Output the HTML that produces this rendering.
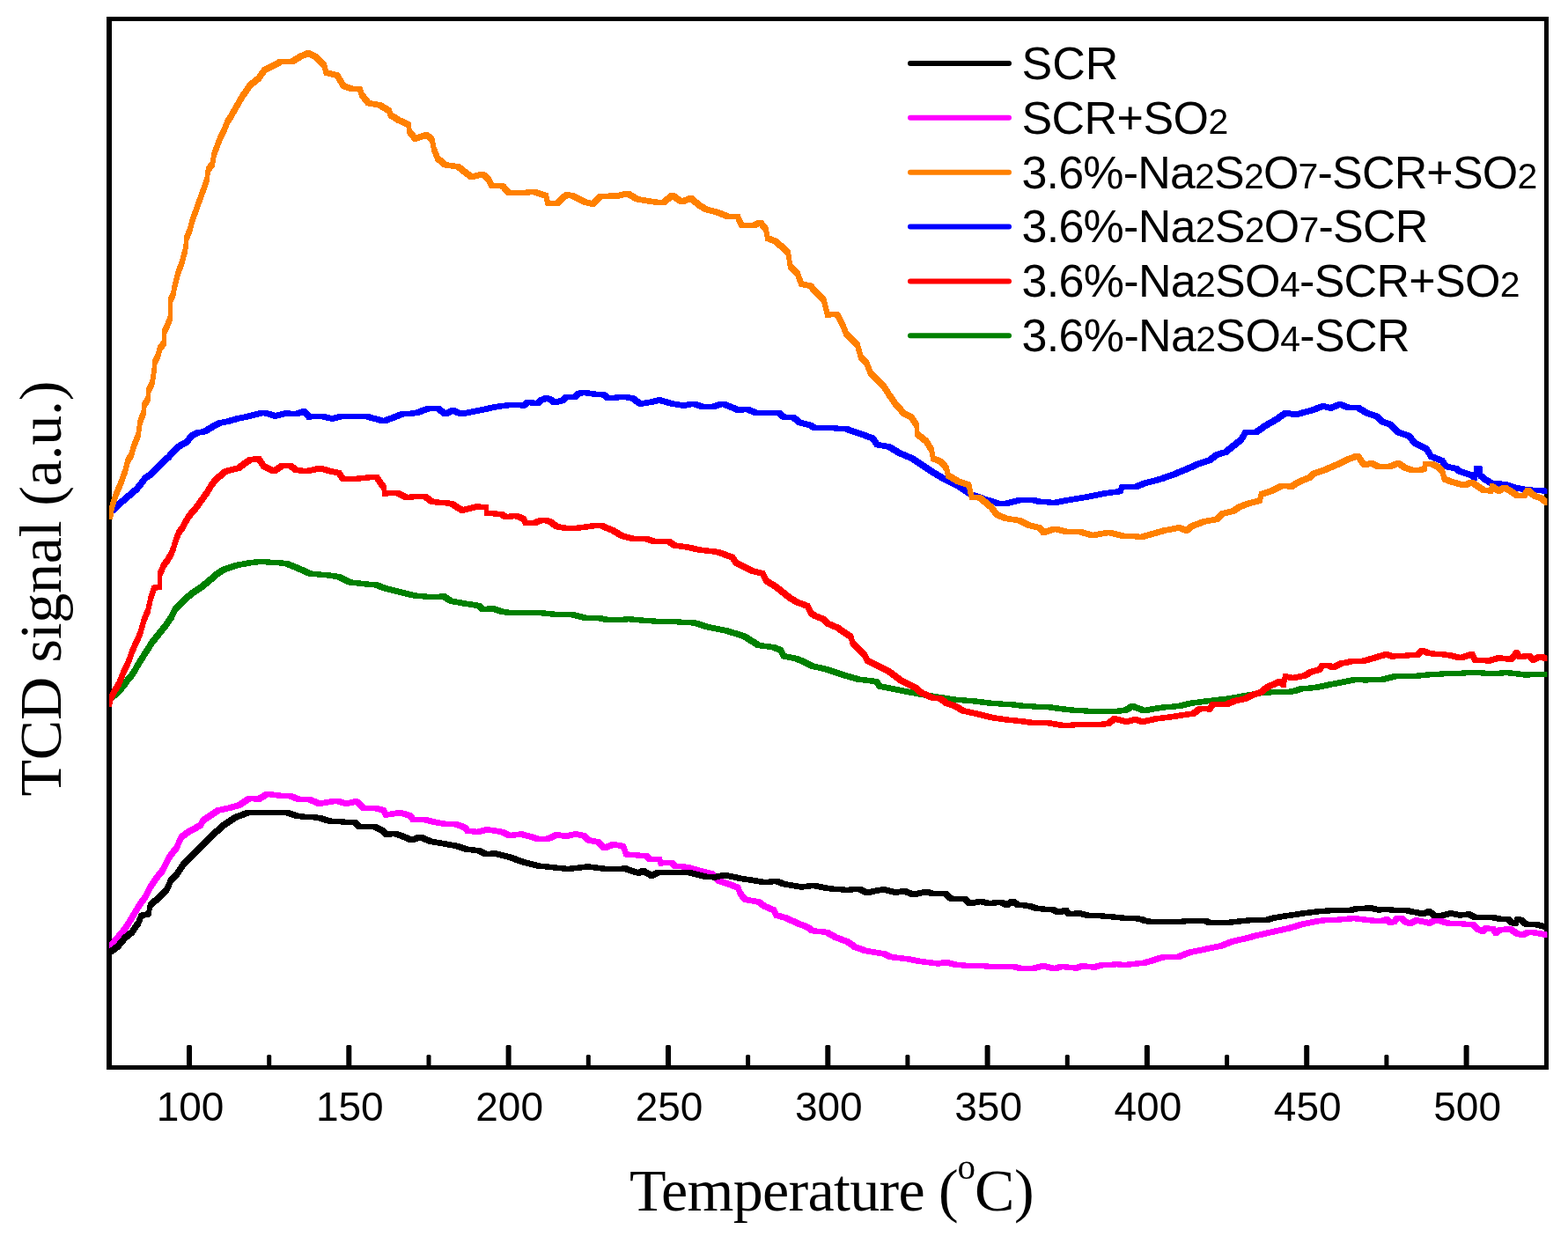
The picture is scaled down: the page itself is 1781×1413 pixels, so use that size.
<!DOCTYPE html>
<html><head><meta charset="utf-8"><title>TCD signal vs Temperature</title>
<style>html,body{margin:0;padding:0;background:#fff;}svg{display:block;}</style>
</head><body>
<svg width="1781" height="1413" viewBox="0 0 1781 1413">
<rect x="0" y="0" width="1781" height="1413" fill="#fff"/>
<g fill="#000">
<rect x="121" y="19" width="6" height="1196"/>
<rect x="121" y="19" width="1638" height="5"/>
<rect x="1754" y="19" width="5" height="1196"/>
<rect x="121" y="1210" width="1638" height="5"/>
<rect x="212.0" y="1187" width="6" height="24" rx="1.5"/>
<rect x="303.2" y="1198" width="5" height="13" rx="1.5"/>
<rect x="393.3" y="1187" width="6" height="24" rx="1.5"/>
<rect x="484.5" y="1198" width="5" height="13" rx="1.5"/>
<rect x="574.6" y="1187" width="6" height="24" rx="1.5"/>
<rect x="665.8" y="1198" width="5" height="13" rx="1.5"/>
<rect x="756.0" y="1187" width="6" height="24" rx="1.5"/>
<rect x="847.1" y="1198" width="5" height="13" rx="1.5"/>
<rect x="937.3" y="1187" width="6" height="24" rx="1.5"/>
<rect x="1028.4" y="1198" width="5" height="13" rx="1.5"/>
<rect x="1118.6" y="1187" width="6" height="24" rx="1.5"/>
<rect x="1209.8" y="1198" width="5" height="13" rx="1.5"/>
<rect x="1299.9" y="1187" width="6" height="24" rx="1.5"/>
<rect x="1391.1" y="1198" width="5" height="13" rx="1.5"/>
<rect x="1481.2" y="1187" width="6" height="24" rx="1.5"/>
<rect x="1572.4" y="1198" width="5" height="13" rx="1.5"/>
<rect x="1662.6" y="1187" width="6" height="24" rx="1.5"/>
</g>
<defs><clipPath id="plotclip"><rect x="124" y="0" width="1633.5" height="1413"/></clipPath></defs>
<g clip-path="url(#plotclip)">
<path fill="#008000" shape-rendering="crispEdges" d="M122,791L126,788L131,788L131,794L127,797L122,797ZM126,788L131.7,782.4L136.7,782.4L136.7,788.4L131,794L126,794ZM131.7,782.4L137.3,776.7L142.3,776.7L142.3,782.7L136.7,788.4L131.7,788.4ZM137.3,776.7L142.3,769.6L147.3,769.6L147.3,775.6L142.3,782.7L137.3,782.7ZM142.3,769.6L147.2,764L152.2,764L152.2,770L147.3,775.6L142.3,775.6ZM147.2,764L151.5,756.9L156.5,756.9L156.5,762.9L152.2,770L147.2,770ZM151.5,756.9L155.7,749.8L160.7,749.8L160.7,755.8L156.5,762.9L151.5,762.9ZM155.7,749.8L160,742.7L165,742.7L165,748.7L160.7,755.8L155.7,755.8ZM160,742.7L165.6,734.3L170.6,734.3L170.6,740.3L165,748.7L160,748.7ZM165.6,734.3L169.9,727.2L174.9,727.2L174.9,733.2L170.6,740.3L165.6,740.3ZM169.9,727.2L175.5,720.1L180.5,720.1L180.5,726.1L174.9,733.2L169.9,733.2ZM175.5,720.1L181.2,713L186.2,713L186.2,719L180.5,726.1L175.5,726.1ZM181.2,713L186.8,706L191.8,706L191.8,712L186.2,719L181.2,719ZM186.8,706L192.5,697.5L197.5,697.5L197.5,703.5L191.8,712L186.8,712ZM192.5,697.5L196.7,689L201.7,689L201.7,695L197.5,703.5L192.5,703.5ZM196.7,689L203.8,681.9L208.8,681.9L208.8,687.9L201.7,695L196.7,695ZM203.8,681.9L210.9,674.8L215.9,674.8L215.9,680.8L208.8,687.9L203.8,687.9ZM210.9,674.8L218,669.2L223,669.2L223,675.2L215.9,680.8L210.9,680.8ZM218,669.2L225,664.9L230,664.9L230,670.9L223,675.2L218,675.2ZM225,664.9L232.9,658.5L237.9,658.5L237.9,664.5L230,670.9L225,670.9ZM232.9,658.5L244.8,648.3L249.8,648.3L249.8,654.3L237.9,664.5L232.9,664.5ZM244.8,648.3L253.3,643.2L258.3,643.2L258.3,649.2L249.8,654.3L244.8,654.3ZM253.3,643.2L266.9,639L271.9,639L271.9,645L258.3,649.2L253.3,649.2ZM266.9,639L280.5,636.4L285.5,636.4L285.5,642.4L271.9,645L266.9,645ZM280.5,636.4L294.1,634.7L299.1,634.7L299.1,640.7L285.5,642.4L280.5,642.4ZM294.1,634.7L299.1,634.7L307.6,635.6L307.6,641.6L302.6,641.6L294.1,640.7ZM302.6,635.6L307.6,635.6L321.1,636.4L321.1,642.4L316.1,642.4L302.6,641.6ZM316.1,636.4L321.1,636.4L328,637.2L328,643.2L323,643.2L316.1,642.4ZM323,637.2L328,637.2L338.6,641.4L338.6,647.4L333.6,647.4L323,643.2ZM333.6,641.4L338.6,641.4L355.6,648.9L355.6,654.9L350.6,654.9L333.6,647.4ZM350.6,648.9L355.6,648.9L372.6,650L372.6,656L367.6,656L350.6,654.9ZM367.6,650L372.6,650L387.4,652.1L387.4,658.1L382.4,658.1L367.6,656ZM382.4,652.1L387.4,652.1L400.2,658.4L400.2,664.4L395.2,664.4L382.4,658.1ZM395.2,658.4L400.2,658.4L419.3,660.5L419.3,666.5L414.3,666.5L395.2,664.4ZM414.3,660.5L427.8,660.5L427.8,666.5L414.3,666.5ZM422.8,660.5L427.8,660.5L438.4,664.8L438.4,670.8L433.4,670.8L422.8,666.5ZM433.4,664.8L438.4,664.8L455.4,669L455.4,675L450.4,675L433.4,670.8ZM450.4,669L455.4,669L472.4,673.3L472.4,679.3L467.4,679.3L450.4,675ZM467.4,673.3L472.4,673.3L493.6,675.4L493.6,681.4L488.6,681.4L467.4,679.3ZM488.6,675.4L501.3,674.3L506.3,674.3L506.3,680.3L493.6,681.4L488.6,681.4ZM501.3,674.3L506.3,674.3L514.8,679.7L514.8,685.7L509.8,685.7L501.3,680.3ZM509.8,679.7L514.8,679.7L531.8,682.8L531.8,688.8L526.8,688.8L509.8,685.7ZM526.8,682.8L531.8,682.8L546.7,685L546.7,691L541.7,691L526.8,688.8ZM541.7,685L546.7,685L550.9,689.2L550.9,695.2L545.9,695.2L541.7,691ZM545.9,689.2L556.5,688.1L561.5,688.1L561.5,694.1L550.9,695.2L545.9,695.2ZM556.5,688.1L561.5,688.1L574.3,692.4L574.3,698.4L569.3,698.4L556.5,694.1ZM569.3,692.4L574.3,692.4L592.5,692.9L592.5,698.9L587.5,698.9L569.3,698.4ZM587.5,692.9L613.7,692.9L613.7,698.9L587.5,698.9ZM608.7,692.9L613.7,692.9L630.7,694.6L630.7,700.6L625.7,700.6L608.7,698.9ZM625.7,694.6L630.7,694.6L651.9,695L651.9,701L646.9,701L625.7,700.6ZM646.9,695L651.9,695L668.9,699.3L668.9,705.3L663.9,705.3L646.9,701ZM663.9,699.3L676.7,698.8L681.7,698.8L681.7,704.8L668.9,705.3L663.9,705.3ZM676.7,698.8L681.7,698.8L694.4,701.4L694.4,707.4L689.4,707.4L676.7,704.8ZM689.4,701.4L712.8,700.3L717.8,700.3L717.8,706.3L694.4,707.4L689.4,707.4ZM712.8,700.3L717.8,700.3L741.1,702.4L741.1,708.4L736.1,708.4L712.8,706.3ZM736.1,702.4L741.1,702.4L766.6,703.1L766.6,709.1L761.6,709.1L736.1,708.4ZM761.6,703.1L766.6,703.1L792.1,704.6L792.1,710.6L787.1,710.6L761.6,709.1ZM787.1,704.6L792.1,704.6L804.8,708.8L804.8,714.8L799.8,714.8L787.1,710.6ZM799.8,708.8L804.8,708.8L826,713L826,719L821,719L799.8,714.8ZM821,713L826,713L847.3,719.4L847.3,725.4L842.3,725.4L821,719ZM842.3,719.4L847.3,719.4L864.3,730L864.3,736L859.3,736L842.3,725.4ZM859.3,730L864.3,730L881.2,732.2L881.2,738.2L876.2,738.2L859.3,736ZM876.2,732.2L881.2,732.2L889.3,735.5L889.3,741.5L884.3,741.5L876.2,738.2ZM884.3,735.5L889.3,735.5L892.7,742.3L892.7,748.3L887.7,748.3L884.3,741.5ZM887.7,742.3L892.7,742.3L906.3,744.9L906.3,750.9L901.3,750.9L887.7,748.3ZM901.3,744.9L906.3,744.9L916.5,749.1L916.5,755.1L911.5,755.1L901.3,750.9ZM911.5,749.1L916.5,749.1L925,753.4L925,759.4L920,759.4L911.5,755.1ZM920,753.4L925,753.4L942,757.6L942,763.6L937,763.6L920,759.4ZM937,757.6L942,757.6L957.2,762.7L957.2,768.7L952.2,768.7L937,763.6ZM952.2,762.7L957.2,762.7L977.6,768.6L977.6,774.6L972.6,774.6L952.2,768.7ZM972.6,768.6L977.6,768.6L998,771.2L998,777.2L993,777.2L972.6,774.6ZM993,771.2L998,771.2L1001.4,776.3L1001.4,782.3L996.4,782.3L993,777.2ZM996.4,776.3L1001.4,776.3L1018.4,779.7L1018.4,785.7L1013.4,785.7L996.4,782.3ZM1013.4,779.7L1018.4,779.7L1030.3,782.2L1030.3,788.2L1025.3,788.2L1013.4,785.7ZM1025.3,782.2L1030.3,782.2L1049,785.6L1049,791.6L1044,791.6L1025.3,788.2ZM1044,785.6L1049,785.6L1069.4,789L1069.4,795L1064.4,795L1044,791.6ZM1064.4,789L1069.4,789L1086.3,791.6L1086.3,797.6L1081.3,797.6L1064.4,795ZM1081.3,791.6L1086.3,791.6L1108.4,793.3L1108.4,799.3L1103.4,799.3L1081.3,797.6ZM1103.4,793.3L1108.4,793.3L1128.8,795.8L1128.8,801.8L1123.8,801.8L1103.4,799.3ZM1123.8,795.8L1128.8,795.8L1154.3,797.5L1154.3,803.5L1149.3,803.5L1123.8,801.8ZM1149.3,797.5L1154.3,797.5L1167.9,799.2L1167.9,805.2L1162.9,805.2L1149.3,803.5ZM1162.9,799.2L1167.9,799.2L1192.7,800L1192.7,806L1187.7,806L1162.9,805.2ZM1187.7,800L1192.7,800L1216.3,803.3L1216.3,809.3L1211.3,809.3L1187.7,806ZM1211.3,803.3L1216.3,803.3L1244.9,805L1244.9,811L1239.9,811L1211.3,809.3ZM1239.9,805L1270.2,805L1270.2,811L1239.9,811ZM1265.2,805L1277,803.3L1282,803.3L1282,809.3L1270.2,811L1265.2,811ZM1277,803.3L1283.7,799.1L1288.7,799.1L1288.7,805.1L1282,809.3L1277,809.3ZM1283.7,799.1L1288.7,799.1L1302.2,804.2L1302.2,810.2L1297.2,810.2L1283.7,805.1ZM1297.2,804.2L1315.7,800.8L1320.7,800.8L1320.7,806.8L1302.2,810.2L1297.2,810.2ZM1315.7,800.8L1335.9,799.1L1340.9,799.1L1340.9,805.1L1320.7,806.8L1315.7,806.8ZM1335.9,799.1L1351.1,795.7L1356.1,795.7L1356.1,801.7L1340.9,805.1L1335.9,805.1ZM1351.1,795.7L1369.6,793.2L1374.6,793.2L1374.6,799.2L1356.1,801.7L1351.1,801.7ZM1369.6,793.2L1391.5,790.7L1396.5,790.7L1396.5,796.7L1374.6,799.2L1369.6,799.2ZM1391.5,790.7L1411.7,787.3L1416.7,787.3L1416.7,793.3L1396.5,796.7L1391.5,796.7ZM1411.7,787.3L1430.3,784L1435.3,784L1435.3,790L1416.7,793.3L1411.7,793.3ZM1430.3,784L1445.4,783.1L1450.4,783.1L1450.4,789.1L1435.3,790L1430.3,790ZM1445.4,783.1L1457.5,783L1462.5,783L1462.5,789L1450.4,789.1L1445.4,789.1ZM1457.5,783L1467.6,782.2L1472.6,782.2L1472.6,788.2L1462.5,789L1457.5,789ZM1467.6,782.2L1474.3,779.6L1479.3,779.6L1479.3,785.6L1472.6,788.2L1467.6,788.2ZM1474.3,779.6L1491.2,778L1496.2,778L1496.2,784L1479.3,785.6L1474.3,785.6ZM1491.2,778L1508,774.6L1513,774.6L1513,780.6L1496.2,784L1491.2,784ZM1508,774.6L1521.5,772.1L1526.5,772.1L1526.5,778.1L1513,780.6L1508,780.6ZM1521.5,772.1L1538.3,768.7L1543.3,768.7L1543.3,774.7L1526.5,778.1L1521.5,778.1ZM1538.3,768.7L1543.3,768.7L1553.5,769.5L1553.5,775.5L1548.5,775.5L1538.3,774.7ZM1548.5,769.5L1568.7,768.7L1573.7,768.7L1573.7,774.7L1553.5,775.5L1548.5,775.5ZM1568.7,768.7L1582.1,765.3L1587.1,765.3L1587.1,771.3L1573.7,774.7L1568.7,774.7ZM1582.1,765.3L1605.7,765.3L1605.7,771.3L1582.1,771.3ZM1600.7,765.3L1617.5,763.6L1622.5,763.6L1622.5,769.6L1605.7,771.3L1600.7,771.3ZM1617.5,763.6L1642.8,762L1647.8,762L1647.8,768L1622.5,769.6L1617.5,769.6ZM1642.8,762L1673.1,761.1L1678.1,761.1L1678.1,767.1L1647.8,768L1642.8,768ZM1673.1,761.1L1678.1,761.1L1698.3,762L1698.3,768L1693.3,768L1673.1,767.1ZM1693.3,762L1710.1,761.1L1715.1,761.1L1715.1,767.1L1698.3,768L1693.3,768ZM1710.1,761.1L1715.1,761.1L1735.4,763.6L1735.4,769.6L1730.4,769.6L1710.1,767.1ZM1730.4,763.6L1753.9,762.8L1758.9,762.8L1758.9,768.8L1735.4,769.6L1730.4,769.6Z"/>
<path fill="#ff0000" shape-rendering="crispEdges" d="M122,797L123.2,790.9L128.2,790.9L128.2,796.9L127,803L122,803ZM123.2,790.9L128.1,781L133.1,781L133.1,787L128.2,796.9L123.2,796.9ZM128.1,781L132.4,773.9L137.4,773.9L137.4,779.9L133.1,787L128.1,787ZM132.4,773.9L135.9,765.4L140.9,765.4L140.9,771.4L137.4,779.9L132.4,779.9ZM135.9,765.4L138.7,758.3L143.7,758.3L143.7,764.3L140.9,771.4L135.9,771.4ZM138.7,758.3L143,749.8L148,749.8L148,755.8L143.7,764.3L138.7,764.3ZM143,749.8L146.5,739.9L151.5,739.9L151.5,745.9L148,755.8L143,755.8ZM146.5,739.9L150,731.4L155,731.4L155,737.4L151.5,745.9L146.5,745.9ZM150,731.4L154.3,722.9L159.3,722.9L159.3,728.9L155,737.4L150,737.4ZM154.3,722.9L157.8,713L162.8,713L162.8,719L159.3,728.9L154.3,728.9ZM157.8,713L161.4,700.3L166.4,700.3L166.4,706.3L162.8,719L157.8,719ZM161.4,700.3L165.6,690.4L170.6,690.4L170.6,696.4L166.4,706.3L161.4,706.3ZM165.6,690.4L168.4,677.7L173.4,677.7L173.4,683.7L170.6,696.4L165.6,696.4ZM168.4,677.7L172.7,664.9L177.7,664.9L177.7,670.9L173.4,683.7L168.4,683.7ZM172.7,664.9L179.1,663.5L184.1,663.5L184.1,669.5L177.7,670.9L172.7,670.9ZM179.1,649.4L184.1,649.4L184.1,669.5L179.1,669.5ZM179.1,649.4L183.3,639.5L188.3,639.5L188.3,645.5L184.1,655.4L179.1,655.4ZM183.3,639.5L187.5,633.8L192.5,633.8L192.5,639.8L188.3,645.5L183.3,645.5ZM187.5,633.8L191.8,626.7L196.8,626.7L196.8,632.7L192.5,639.8L187.5,639.8ZM191.8,626.7L194.6,619.6L199.6,619.6L199.6,625.6L196.8,632.7L191.8,632.7ZM194.6,619.6L197.5,609.7L202.5,609.7L202.5,615.7L199.6,625.6L194.6,625.6ZM197.5,609.7L201,601.2L206,601.2L206,607.2L202.5,615.7L197.5,615.7ZM201,601.2L205.2,596L210.2,596L210.2,602L206,607.2L201,607.2ZM205.2,596L211.3,584L216.3,584L216.3,590L210.2,602L205.2,602ZM211.3,584L218.7,575.7L223.7,575.7L223.7,581.7L216.3,590L211.3,590ZM218.7,575.7L224.2,568.3L229.2,568.3L229.2,574.3L223.7,581.7L218.7,581.7ZM224.2,568.3L228.8,561.9L233.8,561.9L233.8,567.9L229.2,574.3L224.2,574.3ZM228.8,561.9L233.4,555.4L238.4,555.4L238.4,561.4L233.8,567.9L228.8,567.9ZM233.4,555.4L237.1,549L242.1,549L242.1,555L238.4,561.4L233.4,561.4ZM237.1,549L241.7,542.6L246.7,542.6L246.7,548.6L242.1,555L237.1,555ZM241.7,542.6L248.1,537L253.1,537L253.1,543L246.7,548.6L241.7,548.6ZM248.1,537L253.7,532.4L258.7,532.4L258.7,538.4L253.1,543L248.1,543ZM253.7,532.4L261,530.6L266,530.6L266,536.6L258.7,538.4L253.7,538.4ZM261,530.6L268.4,528.8L273.4,528.8L273.4,534.8L266,536.6L261,536.6ZM268.4,528.8L275.7,523.2L280.7,523.2L280.7,529.2L273.4,534.8L268.4,534.8ZM275.7,523.2L281.8,519L286.8,519L286.8,525L280.7,529.2L275.7,529.2ZM281.8,519L291.3,518L296.3,518L296.3,524L286.8,525L281.8,525ZM291.3,518L296.3,518L302.1,526.6L302.1,532.6L297.1,532.6L291.3,524ZM297.1,526.6L302.1,526.6L313.5,532.3L313.5,538.3L308.5,538.3L297.1,532.6ZM308.5,532.3L317.1,526.6L322.1,526.6L322.1,532.6L313.5,538.3L308.5,538.3ZM317.1,526.6L320.9,525.7L325.9,525.7L325.9,531.7L322.1,532.6L317.1,532.6ZM320.9,525.7L332.2,525.7L332.2,531.7L320.9,531.7ZM327.2,525.7L332.2,525.7L338.6,531L338.6,537L333.6,537L327.2,531.7ZM333.6,531L338.6,531L351.3,532.1L351.3,538.1L346.3,538.1L333.6,537ZM346.3,532.1L361.2,528.9L366.2,528.9L366.2,534.9L351.3,538.1L346.3,538.1ZM361.2,528.9L366.2,528.9L376.8,532.1L376.8,538.1L371.8,538.1L361.2,534.9ZM371.8,532.1L376.8,532.1L387.4,534.2L387.4,540.2L382.4,540.2L371.8,538.1ZM382.4,534.2L387.4,534.2L391.7,540.6L391.7,546.6L386.7,546.6L382.4,540.2ZM386.7,540.6L408.7,540.6L408.7,546.6L386.7,546.6ZM403.7,540.6L424.9,538.5L429.9,538.5L429.9,544.5L408.7,546.6L403.7,546.6ZM424.9,538.5L429.9,538.5L434.1,544.8L434.1,550.8L429.1,550.8L424.9,544.5ZM429.1,544.8L434.1,544.8L438.4,550.1L438.4,556.1L433.4,556.1L429.1,550.8ZM433.4,550.1L438.4,550.1L439.4,557.6L439.4,563.6L434.4,563.6L433.4,556.1ZM434.4,557.6L448.2,556.5L453.2,556.5L453.2,562.5L439.4,563.6L434.4,563.6ZM448.2,556.5L453.2,556.5L463.9,561.8L463.9,567.8L458.9,567.8L448.2,562.5ZM458.9,561.8L480.1,560.8L485.1,560.8L485.1,566.8L463.9,567.8L458.9,567.8ZM480.1,560.8L485.1,560.8L493.6,567.1L493.6,573.1L488.6,573.1L480.1,566.8ZM488.6,567.1L493.6,567.1L514.8,568.8L514.8,574.8L509.8,574.8L488.6,573.1ZM509.8,568.8L514.8,568.8L527.5,576.7L527.5,582.7L522.5,582.7L509.8,574.8ZM522.5,576.7L539.5,572.4L544.5,572.4L544.5,578.4L527.5,582.7L522.5,582.7ZM539.5,572.4L544.5,572.4L555.2,573.5L555.2,579.5L550.2,579.5L539.5,578.4ZM550.2,573.5L555.2,573.5L555.2,585.9L550.2,585.9ZM550.2,579.9L555.2,579.9L572.1,580.9L572.1,586.9L567.1,586.9L550.2,585.9ZM567.1,580.9L572.1,580.9L576.4,584.1L576.4,590.1L571.4,590.1L567.1,586.9ZM571.4,584.1L584.1,583L589.1,583L589.1,589L576.4,590.1L571.4,590.1ZM584.1,583L589.1,583L597.8,586.7L597.8,592.7L592.8,592.7L584.1,589ZM592.8,586.7L597.8,586.7L598.9,591L598.9,597L593.9,597L592.8,592.7ZM593.9,591L609.5,591L609.5,597L593.9,597ZM604.5,591L613,587.8L618,587.8L618,593.8L609.5,597L604.5,597ZM613,587.8L618,587.8L626.5,588.8L626.5,594.8L621.5,594.8L613,593.8ZM621.5,588.8L626.5,588.8L635,595.2L635,601.2L630,601.2L621.5,594.8ZM630,595.2L635,595.2L647.7,597.3L647.7,603.3L642.7,603.3L630,601.2ZM642.7,597.3L657.6,596.3L662.6,596.3L662.6,602.3L647.7,603.3L642.7,603.3ZM657.6,596.3L672.4,594.2L677.4,594.2L677.4,600.2L662.6,602.3L657.6,602.3ZM672.4,594.2L685.9,594.2L685.9,600.2L672.4,600.2ZM680.9,594.2L685.9,594.2L698.7,599.5L698.7,605.5L693.7,605.5L680.9,600.2ZM693.7,599.5L698.7,599.5L709.3,605.8L709.3,611.8L704.3,611.8L693.7,605.5ZM704.3,605.8L709.3,605.8L722,609L722,615L717,615L704.3,611.8ZM717,609L736.9,609L736.9,615L717,615ZM731.9,609L736.9,609L745.4,612.2L745.4,618.2L740.4,618.2L731.9,615ZM740.4,612.2L762.4,612.2L762.4,618.2L740.4,618.2ZM757.4,612.2L762.4,612.2L768.7,616.4L768.7,622.4L763.7,622.4L757.4,618.2ZM763.7,616.4L768.7,616.4L783.6,618.6L783.6,624.6L778.6,624.6L763.7,622.4ZM778.6,618.6L783.6,618.6L798.4,621.8L798.4,627.8L793.4,627.8L778.6,624.6ZM793.4,621.8L798.4,621.8L817.6,623.9L817.6,629.9L812.6,629.9L793.4,627.8ZM812.6,623.9L817.6,623.9L834.5,630.2L834.5,636.2L829.5,636.2L812.6,629.9ZM829.5,630.2L834.5,630.2L838.8,636.6L838.8,642.6L833.8,642.6L829.5,636.2ZM833.8,636.6L838.8,636.6L855.8,645.1L855.8,651.1L850.8,651.1L833.8,642.6ZM850.8,645.1L855.8,645.1L868.5,648.3L868.5,654.3L863.5,654.3L850.8,651.1ZM863.5,648.3L868.5,648.3L872.8,656.8L872.8,662.8L867.8,662.8L863.5,654.3ZM867.8,656.8L872.8,656.8L883.4,663.2L883.4,669.2L878.4,669.2L867.8,662.8ZM878.4,663.2L883.4,663.2L891,669.3L891,675.3L886,675.3L878.4,669.2ZM886,669.3L891,669.3L899.5,676.1L899.5,682.1L894.5,682.1L886,675.3ZM894.5,676.1L899.5,676.1L908,681.2L908,687.2L903,687.2L894.5,682.1ZM903,681.2L908,681.2L919.9,685.4L919.9,691.4L914.9,691.4L903,687.2ZM914.9,685.4L919.9,685.4L923.3,693.1L923.3,699.1L918.3,699.1L914.9,691.4ZM918.3,693.1L923.3,693.1L928.4,696.5L928.4,702.5L923.4,702.5L918.3,699.1ZM923.4,696.5L928.4,696.5L936.9,699.9L936.9,705.9L931.9,705.9L923.4,702.5ZM931.9,699.9L936.9,699.9L942,704.9L942,710.9L937,710.9L931.9,705.9ZM937,704.9L942,704.9L953.8,710L953.8,716L948.8,716L937,710.9ZM948.8,710L953.8,710L962.3,716L962.3,722L957.3,722L948.8,716ZM957.3,716L962.3,716L969.1,720.2L969.1,726.2L964.1,726.2L957.3,722ZM964.1,720.2L969.1,720.2L970.8,727L970.8,733L965.8,733L964.1,726.2ZM965.8,727L970.8,727L977.6,733.8L977.6,739.8L972.6,739.8L965.8,733ZM972.6,733.8L977.6,733.8L984.4,740.6L984.4,746.6L979.4,746.6L972.6,739.8ZM979.4,740.6L984.4,740.6L987.8,747.4L987.8,753.4L982.8,753.4L979.4,746.6ZM982.8,747.4L987.8,747.4L998,752.5L998,758.5L993,758.5L982.8,753.4ZM993,752.5L998,752.5L1011.6,759.3L1011.6,765.3L1006.6,765.3L993,758.5ZM1006.6,759.3L1011.6,759.3L1018.4,764.4L1018.4,770.4L1013.4,770.4L1006.6,765.3ZM1013.4,764.4L1018.4,764.4L1025.2,769.5L1025.2,775.5L1020.2,775.5L1013.4,770.4ZM1020.2,769.5L1025.2,769.5L1042.2,778L1042.2,784L1037.2,784L1020.2,775.5ZM1037.2,778L1042.2,778L1049,783.9L1049,789.9L1044,789.9L1037.2,784ZM1044,783.9L1049,783.9L1062.6,789.9L1062.6,795.9L1057.6,795.9L1044,789.9ZM1057.6,789.9L1069.4,789.9L1069.4,795.9L1057.6,795.9ZM1064.4,789.9L1069.4,789.9L1077.8,795.8L1077.8,801.8L1072.8,801.8L1064.4,795.9ZM1072.8,795.8L1077.8,795.8L1086.3,798.4L1086.3,804.4L1081.3,804.4L1072.8,801.8ZM1081.3,798.4L1086.3,798.4L1096.5,804.3L1096.5,810.3L1091.5,810.3L1081.3,804.4ZM1091.5,804.3L1096.5,804.3L1111.8,807.7L1111.8,813.7L1106.8,813.7L1091.5,810.3ZM1106.8,807.7L1111.8,807.7L1128.8,812L1128.8,818L1123.8,818L1106.8,813.7ZM1123.8,812L1128.8,812L1145.8,814.5L1145.8,820.5L1140.8,820.5L1123.8,818ZM1140.8,814.5L1145.8,814.5L1162.8,816.2L1162.8,822.2L1157.8,822.2L1140.8,820.5ZM1157.8,816.2L1162.8,816.2L1172.5,817.6L1172.5,823.6L1167.5,823.6L1157.8,822.2ZM1167.5,817.6L1189.3,817.6L1189.3,823.6L1167.5,823.6ZM1184.3,817.6L1189.3,817.6L1209.6,821L1209.6,827L1204.6,827L1184.3,823.6ZM1204.6,821L1223.1,820.2L1228.1,820.2L1228.1,826.2L1209.6,827L1204.6,827ZM1223.1,820.2L1251.7,820.2L1251.7,826.2L1223.1,826.2ZM1246.7,820.2L1256.8,818.5L1261.8,818.5L1261.8,824.5L1251.7,826.2L1246.7,826.2ZM1256.8,818.5L1263.5,813.4L1268.5,813.4L1268.5,819.4L1261.8,824.5L1256.8,824.5ZM1263.5,813.4L1268.5,813.4L1282,816.8L1282,822.8L1277,822.8L1263.5,819.4ZM1277,816.8L1287.1,814.3L1292.1,814.3L1292.1,820.3L1282,822.8L1277,822.8ZM1287.1,814.3L1292.1,814.3L1300.5,816.8L1300.5,822.8L1295.5,822.8L1287.1,820.3ZM1295.5,816.8L1310.7,813.4L1315.7,813.4L1315.7,819.4L1300.5,822.8L1295.5,822.8ZM1310.7,813.4L1330.9,810.9L1335.9,810.9L1335.9,816.9L1315.7,819.4L1310.7,819.4ZM1330.9,810.9L1341,809.2L1346,809.2L1346,815.2L1335.9,816.9L1330.9,816.9ZM1341,809.2L1352.8,807.5L1357.8,807.5L1357.8,813.5L1346,815.2L1341,815.2ZM1352.8,807.5L1361.2,801.6L1366.2,801.6L1366.2,807.6L1357.8,813.5L1352.8,813.5ZM1361.2,801.6L1366.2,801.6L1376.3,802.5L1376.3,808.5L1371.3,808.5L1361.2,807.6ZM1371.3,802.5L1374.7,797.4L1379.7,797.4L1379.7,803.4L1376.3,808.5L1371.3,808.5ZM1374.7,797.4L1394.8,797.4L1394.8,803.4L1374.7,803.4ZM1389.8,797.4L1399.9,793.2L1404.9,793.2L1404.9,799.2L1394.8,803.4L1389.8,803.4ZM1399.9,793.2L1411.7,790.7L1416.7,790.7L1416.7,796.7L1404.9,799.2L1399.9,799.2ZM1411.7,790.7L1420.1,786.5L1425.1,786.5L1425.1,792.5L1416.7,796.7L1411.7,796.7ZM1420.1,786.5L1430.3,783.1L1435.3,783.1L1435.3,789.1L1425.1,792.5L1420.1,792.5ZM1430.3,783.1L1437,777.2L1442,777.2L1442,783.2L1435.3,789.1L1430.3,789.1ZM1437,777.2L1445.4,773.9L1450.4,773.9L1450.4,779.9L1442,783.2L1437,783.2ZM1445.4,773.9L1450.5,771.3L1455.5,771.3L1455.5,777.3L1450.4,779.9L1445.4,779.9ZM1450.5,771.3L1455.5,771.3L1460.5,774.7L1460.5,780.7L1455.5,780.7L1450.5,777.3ZM1455.5,774.7L1457.2,765.4L1462.2,765.4L1462.2,771.4L1460.5,780.7L1455.5,780.7ZM1457.2,765.4L1462.2,765.4L1470.9,767L1470.9,773L1465.9,773L1457.2,771.4ZM1465.9,767L1479.4,764.5L1484.4,764.5L1484.4,770.5L1470.9,773L1465.9,773ZM1479.4,764.5L1486.1,760.3L1491.1,760.3L1491.1,766.3L1484.4,770.5L1479.4,770.5ZM1486.1,760.3L1496.2,757.7L1501.2,757.7L1501.2,763.7L1491.1,766.3L1486.1,766.3ZM1496.2,757.7L1499.6,752.7L1504.6,752.7L1504.6,758.7L1501.2,763.7L1496.2,763.7ZM1499.6,752.7L1504.6,752.7L1513,753.5L1513,759.5L1508,759.5L1499.6,758.7ZM1508,753.5L1513,753.5L1516.4,755.2L1516.4,761.2L1511.4,761.2L1508,759.5ZM1511.4,755.2L1521.5,750.2L1526.5,750.2L1526.5,756.2L1516.4,761.2L1511.4,761.2ZM1521.5,750.2L1528.2,749.3L1533.2,749.3L1533.2,755.3L1526.5,756.2L1521.5,756.2ZM1528.2,749.3L1535,747.6L1540,747.6L1540,753.6L1533.2,755.3L1528.2,755.3ZM1535,747.6L1551.8,747.6L1551.8,753.6L1535,753.6ZM1546.8,747.6L1558.6,744.3L1563.6,744.3L1563.6,750.3L1551.8,753.6L1546.8,753.6ZM1558.6,744.3L1572,740.1L1577,740.1L1577,746.1L1563.6,750.3L1558.6,750.3ZM1572,740.1L1577,740.1L1583.8,742.6L1583.8,748.6L1578.8,748.6L1572,746.1ZM1578.8,742.6L1592.2,741.7L1597.2,741.7L1597.2,747.7L1583.8,748.6L1578.8,748.6ZM1592.2,741.7L1607.4,740.9L1612.4,740.9L1612.4,746.9L1597.2,747.7L1592.2,747.7ZM1607.4,740.9L1612.5,735.8L1617.5,735.8L1617.5,741.8L1612.4,746.9L1607.4,746.9ZM1612.5,735.8L1617.5,735.8L1625.9,739.2L1625.9,745.2L1620.9,745.2L1612.5,741.8ZM1620.9,739.2L1625.9,739.2L1637.7,740.1L1637.7,746.1L1632.7,746.1L1620.9,745.2ZM1632.7,740.1L1637.7,740.1L1647.8,740.9L1647.8,746.9L1642.8,746.9L1632.7,746.1ZM1642.8,740.9L1647.8,740.9L1661.3,744.3L1661.3,750.3L1656.3,750.3L1642.8,746.9ZM1656.3,744.3L1669.7,740.1L1674.7,740.1L1674.7,746.1L1661.3,750.3L1656.3,750.3ZM1669.7,740.1L1674.7,740.1L1678.1,746.8L1678.1,752.8L1673.1,752.8L1669.7,746.1ZM1673.1,746.8L1678.1,746.8L1693.3,747.6L1693.3,753.6L1688.3,753.6L1673.1,752.8ZM1688.3,747.6L1700,744.3L1705,744.3L1705,750.3L1693.3,753.6L1688.3,753.6ZM1700,744.3L1705,744.3L1718.5,746L1718.5,752L1713.5,752L1700,750.3ZM1713.5,746L1720.3,738.4L1725.3,738.4L1725.3,744.4L1718.5,752L1713.5,752ZM1720.3,738.4L1725.3,738.4L1728.6,743.4L1728.6,749.4L1723.6,749.4L1720.3,744.4ZM1723.6,743.4L1733.7,741.7L1738.7,741.7L1738.7,747.7L1728.6,749.4L1723.6,749.4ZM1733.7,741.7L1738.7,741.7L1743.8,746.8L1743.8,752.8L1738.8,752.8L1733.7,747.7ZM1738.8,746.8L1747.2,742.6L1752.2,742.6L1752.2,748.6L1743.8,752.8L1738.8,752.8ZM1747.2,742.6L1752.2,742.6L1758.9,745.1L1758.9,751.1L1753.9,751.1L1747.2,748.6Z"/>
<path fill="#0000ff" shape-rendering="crispEdges" d="M122,579.5L126.7,575.7L131.7,575.7L131.7,581.7L127,585.5L122,585.5ZM126.7,575.7L132.2,570.2L137.2,570.2L137.2,576.2L131.7,581.7L126.7,581.7ZM132.2,570.2L138.7,564.6L143.7,564.6L143.7,570.6L137.2,576.2L132.2,576.2ZM138.7,564.6L145.1,559.1L150.1,559.1L150.1,565.1L143.7,570.6L138.7,570.6ZM145.1,559.1L152.5,552.7L157.5,552.7L157.5,558.7L150.1,565.1L145.1,565.1ZM152.5,552.7L158,546.2L163,546.2L163,552.2L157.5,558.7L152.5,558.7ZM158,546.2L162.6,539.8L167.6,539.8L167.6,545.8L163,552.2L158,552.2ZM162.6,539.8L169.9,535.2L174.9,535.2L174.9,541.2L167.6,545.8L162.6,545.8ZM169.9,535.2L175.5,528.8L180.5,528.8L180.5,534.8L174.9,541.2L169.9,541.2ZM175.5,528.8L181.9,522.3L186.9,522.3L186.9,528.3L180.5,534.8L175.5,534.8ZM181.9,522.3L189.3,515.9L194.3,515.9L194.3,521.9L186.9,528.3L181.9,528.3ZM189.3,515.9L194.8,509.4L199.8,509.4L199.8,515.4L194.3,521.9L189.3,521.9ZM194.8,509.4L202.1,503L207.1,503L207.1,509L199.8,515.4L194.8,515.4ZM202.1,503L209.5,499.3L214.5,499.3L214.5,505.3L207.1,509L202.1,509ZM209.5,499.3L215,492L220,492L220,498L214.5,505.3L209.5,505.3ZM215,492L223.3,487.8L228.3,487.8L228.3,493.8L220,498L215,498ZM223.3,487.8L229.7,487.4L234.7,487.4L234.7,493.4L228.3,493.8L223.3,493.8ZM229.7,487.4L238.9,481.8L243.9,481.8L243.9,487.8L234.7,493.4L229.7,493.4ZM238.9,481.8L248.1,477.2L253.1,477.2L253.1,483.2L243.9,487.8L238.9,487.8ZM248.1,477.2L257.3,475.4L262.3,475.4L262.3,481.4L253.1,483.2L248.1,483.2ZM257.3,475.4L266.5,472.6L271.5,472.6L271.5,478.6L262.3,481.4L257.3,481.4ZM266.5,472.6L275.7,470.8L280.7,470.8L280.7,476.8L271.5,478.6L266.5,478.6ZM275.7,470.8L297.1,465.5L302.1,465.5L302.1,471.5L280.7,476.8L275.7,476.8ZM297.1,465.5L302.1,465.5L315.2,469.5L315.2,475.5L310.2,475.5L297.1,471.5ZM310.2,469.5L323,466.3L328,466.3L328,472.3L315.2,475.5L310.2,475.5ZM323,466.3L328,466.3L338.6,467.3L338.6,473.3L333.6,473.3L323,472.3ZM333.6,467.3L343.1,464.2L348.1,464.2L348.1,470.2L338.6,473.3L333.6,473.3ZM343.1,464.2L348.1,464.2L353.5,470.5L353.5,476.5L348.5,476.5L343.1,470.2ZM348.5,470.5L361.2,469.5L366.2,469.5L366.2,475.5L353.5,476.5L348.5,476.5ZM361.2,469.5L366.2,469.5L380,472.6L380,478.6L375,478.6L361.2,475.5ZM375,472.6L386.7,469.5L391.7,469.5L391.7,475.5L380,478.6L375,478.6ZM386.7,469.5L417.1,469.5L417.1,475.5L386.7,475.5ZM412.1,469.5L417.1,469.5L438.4,475.4L438.4,481.4L433.4,481.4L412.1,475.5ZM433.4,475.4L454.6,467.3L459.6,467.3L459.6,473.3L438.4,481.4L433.4,481.4ZM454.6,467.3L469.5,466.3L474.5,466.3L474.5,472.3L459.6,473.3L454.6,473.3ZM469.5,466.3L484.3,461L489.3,461L489.3,467L474.5,472.3L469.5,472.3ZM484.3,461L500,461L500,467L484.3,467ZM495,461L500,461L508.4,467.3L508.4,473.3L503.4,473.3L495,467ZM503.4,467.3L511.9,463.1L516.9,463.1L516.9,469.1L508.4,473.3L503.4,473.3ZM511.9,463.1L516.9,463.1L526.5,467.3L526.5,473.3L521.5,473.3L511.9,469.1ZM521.5,467.3L541.7,463.1L546.7,463.1L546.7,469.1L526.5,473.3L521.5,473.3ZM541.7,463.1L562.9,458.8L567.9,458.8L567.9,464.8L546.7,469.1L541.7,469.1ZM562.9,458.8L579.9,456.7L584.9,456.7L584.9,462.7L567.9,464.8L562.9,464.8ZM579.9,456.7L584.9,456.7L597.1,457.6L597.1,463.6L592.1,463.6L579.9,462.7ZM592.1,457.6L596.6,454.3L601.6,454.3L601.6,460.3L597.1,463.6L592.1,463.6ZM596.6,454.3L601.6,454.3L613.9,454.8L613.9,460.8L608.9,460.8L596.6,460.3ZM608.9,454.8L612.3,451.5L617.3,451.5L617.3,457.5L613.9,460.8L608.9,460.8ZM612.3,451.5L617.9,449.2L622.9,449.2L622.9,455.2L617.3,457.5L612.3,457.5ZM617.9,449.2L622.9,449.2L628.5,450.9L628.5,456.9L623.5,456.9L617.9,455.2ZM623.5,450.9L628.5,450.9L631.9,454.3L631.9,460.3L626.9,460.3L623.5,456.9ZM626.9,454.3L635.9,452L640.9,452L640.9,458L631.9,460.3L626.9,460.3ZM635.9,452L641.5,447.5L646.5,447.5L646.5,453.5L640.9,458L635.9,458ZM641.5,447.5L646.5,447.5L655.5,448.1L655.5,454.1L650.5,454.1L641.5,453.5ZM650.5,448.1L653.9,444.2L658.9,444.2L658.9,450.2L655.5,454.1L650.5,454.1ZM653.9,444.2L660.6,442.5L665.6,442.5L665.6,448.5L658.9,450.2L653.9,450.2ZM660.6,442.5L665.6,442.5L672.3,444.2L672.3,450.2L667.3,450.2L660.6,448.5ZM667.3,444.2L672.3,444.2L688.1,445.3L688.1,451.3L683.1,451.3L667.3,450.2ZM683.1,445.3L688.1,445.3L692.5,448.7L692.5,454.7L687.5,454.7L683.1,451.3ZM687.5,448.7L692.5,448.7L699.3,449.2L699.3,455.2L694.3,455.2L687.5,454.7ZM694.3,449.2L703.3,447.5L708.3,447.5L708.3,453.5L699.3,455.2L694.3,455.2ZM703.3,447.5L708.3,447.5L720.6,449.2L720.6,455.2L715.6,455.2L703.3,453.5ZM715.6,449.2L720.6,449.2L730.1,455.6L730.1,461.6L725.1,461.6L715.6,455.2ZM725.1,455.6L740.3,453.1L745.3,453.1L745.3,459.1L730.1,461.6L725.1,461.6ZM740.3,453.1L746.3,451.3L751.3,451.3L751.3,457.3L745.3,459.1L740.3,459.1ZM746.3,451.3L751.3,451.3L766.2,455.6L766.2,461.6L761.2,461.6L746.3,457.3ZM761.2,455.6L766.2,455.6L778.9,457.7L778.9,463.7L773.9,463.7L761.2,461.6ZM773.9,457.7L784.5,455.6L789.5,455.6L789.5,461.6L778.9,463.7L773.9,463.7ZM784.5,455.6L789.5,455.6L800.2,458.8L800.2,464.8L795.2,464.8L784.5,461.6ZM795.2,458.8L812.9,458.8L812.9,464.8L795.2,464.8ZM807.9,458.8L818.5,455.6L823.5,455.6L823.5,461.6L812.9,464.8L807.9,464.8ZM818.5,455.6L823.5,455.6L834.1,459.8L834.1,465.8L829.1,465.8L818.5,461.6ZM829.1,459.8L834.1,459.8L840.5,463L840.5,469L835.5,469L829.1,465.8ZM835.5,463L846.1,461.9L851.1,461.9L851.1,467.9L840.5,469L835.5,469ZM846.1,461.9L851.1,461.9L861.7,466.2L861.7,472.2L856.7,472.2L846.1,467.9ZM856.7,466.2L887.2,466.2L887.2,472.2L856.7,472.2ZM882.2,466.2L887.2,466.2L891.5,470.4L891.5,476.4L886.5,476.4L882.2,472.2ZM886.5,470.4L891.5,470.4L904.2,471.5L904.2,477.5L899.2,477.5L886.5,476.4ZM899.2,471.5L904.2,471.5L910.6,476.8L910.6,482.8L905.6,482.8L899.2,477.5ZM905.6,476.8L910.6,476.8L923.3,480L923.3,486L918.3,486L905.6,482.8ZM918.3,480L923.3,480L927.5,483.2L927.5,489.2L922.5,489.2L918.3,486ZM922.5,483.2L946.7,483.2L946.7,489.2L922.5,489.2ZM941.7,483.2L946.7,483.2L963.6,484.2L963.6,490.2L958.6,490.2L941.7,489.2ZM958.6,484.2L963.6,484.2L970,486.4L970,492.4L965,492.4L958.6,490.2ZM965,486.4L970,486.4L993.6,494.7L993.6,500.7L988.6,500.7L965,492.4ZM988.6,494.7L993.6,494.7L998.9,502.1L998.9,508.1L993.9,508.1L988.6,500.7ZM993.9,502.1L998.9,502.1L1011.6,504.2L1011.6,510.2L1006.6,510.2L993.9,508.1ZM1006.6,504.2L1011.6,504.2L1024.3,511.6L1024.3,517.6L1019.3,517.6L1006.6,510.2ZM1019.3,511.6L1024.3,511.6L1039.2,518L1039.2,524L1034.2,524L1019.3,517.6ZM1034.2,518L1039.2,518L1051.9,526.5L1051.9,532.5L1046.9,532.5L1034.2,524ZM1046.9,526.5L1051.9,526.5L1064.7,535L1064.7,541L1059.7,541L1046.9,532.5ZM1059.7,535L1064.7,535L1077.4,542.4L1077.4,548.4L1072.4,548.4L1059.7,541ZM1072.4,542.4L1077.4,542.4L1092.3,549.9L1092.3,555.9L1087.3,555.9L1072.4,548.4ZM1087.3,549.9L1092.3,549.9L1105,558.4L1105,564.4L1100,564.4L1087.3,555.9ZM1100,558.4L1105,558.4L1119.9,563.7L1119.9,569.7L1114.9,569.7L1100,564.4ZM1114.9,563.7L1119.9,563.7L1136.9,569L1136.9,575L1131.9,575L1114.9,569.7ZM1131.9,569L1145.4,569L1145.4,575L1131.9,575ZM1140.4,569L1157.4,564.7L1162.4,564.7L1162.4,570.7L1145.4,575L1140.4,575ZM1157.4,564.7L1175.1,564.7L1175.1,570.7L1157.4,570.7ZM1170.1,564.7L1175.1,564.7L1183.6,566.9L1183.6,572.9L1178.6,572.9L1170.1,570.7ZM1178.6,566.9L1183.6,566.9L1200.6,567.9L1200.6,573.9L1195.6,573.9L1178.6,572.9ZM1195.6,567.9L1212.5,564.7L1217.5,564.7L1217.5,570.7L1200.6,573.9L1195.6,573.9ZM1212.5,564.7L1231.7,561.5L1236.7,561.5L1236.7,567.5L1217.5,570.7L1212.5,570.7ZM1231.7,561.5L1252.9,557.3L1257.9,557.3L1257.9,563.3L1236.7,567.5L1231.7,567.5ZM1252.9,557.3L1269.9,555.2L1274.9,555.2L1274.9,561.2L1257.9,563.3L1252.9,563.3ZM1269.9,555.2L1272,549.9L1277,549.9L1277,555.9L1274.9,561.2L1269.9,561.2ZM1272,549.9L1288.1,549.7L1293.1,549.7L1293.1,555.7L1277,555.9L1272,555.9ZM1288.1,549.7L1298.7,545.5L1303.7,545.5L1303.7,551.5L1293.1,555.7L1288.1,555.7ZM1298.7,545.5L1315.7,541.2L1320.7,541.2L1320.7,547.2L1303.7,551.5L1298.7,551.5ZM1315.7,541.2L1330.6,535.9L1335.6,535.9L1335.6,541.9L1320.7,547.2L1315.7,547.2ZM1330.6,535.9L1341.2,531.6L1346.2,531.6L1346.2,537.6L1335.6,541.9L1330.6,541.9ZM1341.2,531.6L1358.2,524.2L1363.2,524.2L1363.2,530.2L1346.2,537.6L1341.2,537.6ZM1358.2,524.2L1370.9,520L1375.9,520L1375.9,526L1363.2,530.2L1358.2,530.2ZM1370.9,520L1379.4,513.6L1384.4,513.6L1384.4,519.6L1375.9,526L1370.9,526ZM1379.4,513.6L1390,510.4L1395,510.4L1395,516.4L1384.4,519.6L1379.4,519.6ZM1390,510.4L1396.4,505.1L1401.4,505.1L1401.4,511.1L1395,516.4L1390,516.4ZM1396.4,505.1L1407,496.6L1412,496.6L1412,502.6L1401.4,511.1L1396.4,511.1ZM1407,496.6L1412.3,488.1L1417.3,488.1L1417.3,494.1L1412,502.6L1407,502.6ZM1412.3,488.1L1429,488.1L1429,494.1L1412.3,494.1ZM1424,488.1L1434.6,480.7L1439.6,480.7L1439.6,486.7L1429,494.1L1424,494.1ZM1434.6,480.7L1447.4,473.3L1452.4,473.3L1452.4,479.3L1439.6,486.7L1434.6,486.7ZM1447.4,473.3L1458,465.8L1463,465.8L1463,471.8L1452.4,479.3L1447.4,479.3ZM1458,465.8L1463,465.8L1473.6,468L1473.6,474L1468.6,474L1458,471.8ZM1468.6,468L1485.6,463.7L1490.6,463.7L1490.6,469.7L1473.6,474L1468.6,474ZM1485.6,463.7L1500.4,458.4L1505.4,458.4L1505.4,464.4L1490.6,469.7L1485.6,469.7ZM1500.4,458.4L1505.4,458.4L1513.9,460.5L1513.9,466.5L1508.9,466.5L1500.4,464.4ZM1508.9,460.5L1519.5,456.3L1524.5,456.3L1524.5,462.3L1513.9,466.5L1508.9,466.5ZM1519.5,456.3L1524.5,456.3L1533,459.5L1533,465.5L1528,465.5L1519.5,462.3ZM1528,459.5L1533,459.5L1545.8,460.5L1545.8,466.5L1540.8,466.5L1528,465.5ZM1540.8,460.5L1545.8,460.5L1554.3,465.8L1554.3,471.8L1549.3,471.8L1540.8,466.5ZM1549.3,465.8L1554.3,465.8L1567,470.1L1567,476.1L1562,476.1L1549.3,471.8ZM1562,470.1L1567,470.1L1572.5,475.8L1572.5,481.8L1567.5,481.8L1562,476.1ZM1567.5,475.8L1572.5,475.8L1581,479L1581,485L1576,485L1567.5,481.8ZM1576,479L1581,479L1591.7,488.6L1591.7,494.6L1586.7,494.6L1576,485ZM1586.7,488.6L1591.7,488.6L1602.4,491.8L1602.4,497.8L1597.4,497.8L1586.7,494.6ZM1597.4,491.8L1602.4,491.8L1609.8,500.3L1609.8,506.3L1604.8,506.3L1597.4,497.8ZM1604.8,500.3L1609.8,500.3L1622.6,506.7L1622.6,512.7L1617.6,512.7L1604.8,506.3ZM1617.6,506.7L1622.6,506.7L1628,515.3L1628,521.3L1623,521.3L1617.6,512.7ZM1623,515.3L1628,515.3L1640.8,520.6L1640.8,526.6L1635.8,526.6L1623,521.3ZM1635.8,520.6L1640.8,520.6L1645,527L1645,533L1640,533L1635.8,526.6ZM1640,527L1645,527L1656.8,529.1L1656.8,535.1L1651.8,535.1L1640,533ZM1651.8,529.1L1656.8,529.1L1660,532.3L1660,538.3L1655,538.3L1651.8,535.1ZM1655,532.3L1660,532.3L1673.8,536.6L1673.8,542.6L1668.8,542.6L1655,538.3ZM1668.8,536.6L1673.8,536.6L1678.1,539.8L1678.1,545.8L1673.1,545.8L1668.8,542.6ZM1673.1,539.8L1674.2,529.1L1679.2,529.1L1679.2,535.1L1678.1,545.8L1673.1,545.8ZM1674.2,529.1L1683.4,529.1L1683.4,535.1L1674.2,535.1ZM1678.4,529.1L1683.4,529.1L1684.5,537.7L1684.5,543.7L1679.5,543.7L1678.4,535.1ZM1679.5,537.7L1684.5,537.7L1689.8,541.9L1689.8,547.9L1684.8,547.9L1679.5,543.7ZM1684.8,541.9L1689.8,541.9L1697.3,546.2L1697.3,552.2L1692.3,552.2L1684.8,547.9ZM1692.3,546.2L1697.3,546.2L1711.2,546.7L1711.2,552.7L1706.2,552.7L1692.3,552.2ZM1706.2,546.7L1711.2,546.7L1721.9,550.5L1721.9,556.5L1716.9,556.5L1706.2,552.7ZM1716.9,550.5L1721.9,550.5L1732.5,552.6L1732.5,558.6L1727.5,558.6L1716.9,556.5ZM1727.5,552.6L1732.5,552.6L1743.2,553.7L1743.2,559.7L1738.2,559.7L1727.5,558.6ZM1738.2,553.7L1743.2,553.7L1758.7,554.7L1758.7,560.7L1753.7,560.7L1738.2,559.7Z"/>
<path fill="#ff8000" shape-rendering="crispEdges" d="M123,584L124.9,572L129.9,572L129.9,578L128,590L123,590ZM124.9,572L128.5,561L133.5,561L133.5,567L129.9,578L124.9,578ZM128.5,561L132.2,551.8L137.2,551.8L137.2,557.8L133.5,567L128.5,567ZM132.2,551.8L135.9,542.6L140.9,542.6L140.9,548.6L137.2,557.8L132.2,557.8ZM135.9,542.6L139.6,532.4L144.6,532.4L144.6,538.4L140.9,548.6L135.9,548.6ZM139.6,532.4L142.3,521.4L147.3,521.4L147.3,527.4L144.6,538.4L139.6,538.4ZM142.3,521.4L146.9,513.1L151.9,513.1L151.9,519.1L147.3,527.4L142.3,527.4ZM146.9,513.1L149.7,503L154.7,503L154.7,509L151.9,519.1L146.9,519.1ZM149.7,503L154.3,492L159.3,492L159.3,498L154.7,509L149.7,509ZM154.3,492L156.5,477L161.5,477L161.5,483L159.3,498L154.3,498ZM156.5,477L160.8,464.9L165.8,464.9L165.8,470.9L161.5,483L156.5,483ZM160.8,464.9L161.3,457.5L166.3,457.5L166.3,463.5L165.8,470.9L160.8,470.9ZM161.3,457.5L165.5,450.1L170.5,450.1L170.5,456.1L166.3,463.5L161.3,463.5ZM165.5,450.1L166.6,439.5L171.6,439.5L171.6,445.5L170.5,456.1L165.5,456.1ZM166.6,439.5L170.3,432L175.3,432L175.3,438L171.6,445.5L166.6,445.5ZM170.3,432L172.4,420.4L177.4,420.4L177.4,426.4L175.3,438L170.3,438ZM172.4,420.4L173,408.7L178,408.7L178,414.7L177.4,426.4L172.4,426.4ZM173,408.7L176.1,403.4L181.1,403.4L181.1,409.4L178,414.7L173,414.7ZM176.1,403.4L179.3,392.8L184.3,392.8L184.3,398.8L181.1,409.4L176.1,409.4ZM179.3,392.8L183.6,386.4L188.6,386.4L188.6,392.4L184.3,398.8L179.3,398.8ZM183.6,374.7L188.6,374.7L188.6,392.4L183.6,392.4ZM183.6,374.7L187.3,367.3L192.3,367.3L192.3,373.3L188.6,380.7L183.6,380.7ZM187.3,367.3L191,357.8L196,357.8L196,363.8L192.3,373.3L187.3,373.3ZM191,337.6L196,337.6L196,363.8L191,363.8ZM191,337.6L194.2,331.2L199.2,331.2L199.2,337.2L196,343.6L191,343.6ZM194.2,331.2L196,322L201,322L201,328L199.2,337.2L194.2,337.2ZM196,322L199.8,307.2L204.8,307.2L204.8,313.2L201,328L196,328ZM199.8,307.2L204,295.3L209,295.3L209,301.3L204.8,313.2L199.8,313.2ZM204,295.3L208.3,280L213.3,280L213.3,286L209,301.3L204,301.3ZM208.3,280L209.1,268.1L214.1,268.1L214.1,274.1L213.3,286L208.3,286ZM209.1,268.1L213.4,257.9L218.4,257.9L218.4,263.9L214.1,274.1L209.1,274.1ZM213.4,257.9L215.9,247.7L220.9,247.7L220.9,253.7L218.4,263.9L213.4,263.9ZM215.9,247.7L220.2,235.8L225.2,235.8L225.2,241.8L220.9,253.7L215.9,253.7ZM220.2,235.8L224.4,223.9L229.4,223.9L229.4,229.9L225.2,241.8L220.2,241.8ZM224.4,223.9L228.7,212L233.7,212L233.7,218L229.4,229.9L224.4,229.9ZM228.7,212L232.9,200.1L237.9,200.1L237.9,206.1L233.7,218L228.7,218ZM232.9,200.1L233.8,189.9L238.8,189.9L238.8,195.9L237.9,206.1L232.9,206.1ZM233.8,189.9L238.9,183.1L243.9,183.1L243.9,189.1L238.8,195.9L233.8,195.9ZM238.9,183.1L240.6,172.9L245.6,172.9L245.6,178.9L243.9,189.1L238.9,189.1ZM240.6,172.9L244.8,161L249.8,161L249.8,167L245.6,178.9L240.6,178.9ZM244.8,161L248.2,152.5L253.2,152.5L253.2,158.5L249.8,167L244.8,167ZM248.2,152.5L252.5,144L257.5,144L257.5,150L253.2,158.5L248.2,158.5ZM252.5,144L255.9,135.5L260.9,135.5L260.9,141.5L257.5,150L252.5,150ZM255.9,135.5L260.1,128.7L265.1,128.7L265.1,134.7L260.9,141.5L255.9,141.5ZM260.1,128.7L264,121.9L269,121.9L269,127.9L265.1,134.7L260.1,134.7ZM264,121.9L272.5,107L277.5,107L277.5,113L269,127.9L264,127.9ZM272.5,107L281,94.3L286,94.3L286,100.3L277.5,113L272.5,113ZM281,94.3L291.6,85.8L296.6,85.8L296.6,91.8L286,100.3L281,100.3ZM291.6,85.8L298,76.3L303,76.3L303,82.3L296.6,91.8L291.6,91.8ZM298,76.3L308.6,71L313.6,71L313.6,77L303,82.3L298,82.3ZM308.6,71L317.1,66.7L322.1,66.7L322.1,72.7L313.6,77L308.6,77ZM317.1,66.7L334.8,66.7L334.8,72.7L317.1,72.7ZM329.8,66.7L338.3,61.4L343.3,61.4L343.3,67.4L334.8,72.7L329.8,72.7ZM338.3,61.4L347.9,57.2L352.9,57.2L352.9,63.2L343.3,67.4L338.3,67.4ZM347.9,57.2L352.9,57.2L362.4,62.5L362.4,68.5L357.4,68.5L347.9,63.2ZM357.4,62.5L362.4,62.5L370.9,71L370.9,77L365.9,77L357.4,68.5ZM365.9,71L370.9,71L373,79.5L373,85.5L368,85.5L365.9,77ZM368,79.5L373,79.5L385.8,82.6L385.8,88.6L380.8,88.6L368,85.5ZM380.8,82.6L385.8,82.6L392.1,94.3L392.1,100.3L387.1,100.3L380.8,88.6ZM387.1,94.3L392.1,94.3L400.6,97.5L400.6,103.5L395.6,103.5L387.1,100.3ZM395.6,97.5L411.2,97.5L411.2,103.5L395.6,103.5ZM406.2,97.5L411.2,97.5L413.4,104.9L413.4,110.9L408.4,110.9L406.2,103.5ZM408.4,104.9L413.4,104.9L416.7,108.8L416.7,114.8L411.7,114.8L408.4,110.9ZM411.7,108.8L416.7,108.8L421,114.2L421,120.2L416,120.2L411.7,114.8ZM416,114.2L421,114.2L433.7,116.3L433.7,122.3L428.7,122.3L416,120.2ZM428.7,116.3L433.7,116.3L444.3,122.6L444.3,128.6L439.3,128.6L428.7,122.3ZM439.3,122.6L444.3,122.6L446.5,128L446.5,134L441.5,134L439.3,128.6ZM441.5,128L446.5,128L455,133.3L455,139.3L450,139.3L441.5,134ZM450,133.3L455,133.3L466.6,138.6L466.6,144.6L461.6,144.6L450,139.3ZM461.6,138.6L466.6,138.6L467.7,147L467.7,153L462.7,153L461.6,144.6ZM462.7,147L467.7,147L474.1,154.5L474.1,160.5L469.1,160.5L462.7,153ZM469.1,154.5L481.8,150.2L486.8,150.2L486.8,156.2L474.1,160.5L469.1,160.5ZM481.8,150.2L486.8,150.2L493.2,155.6L493.2,161.6L488.2,161.6L481.8,156.2ZM488.2,155.6L493.2,155.6L495.3,166.2L495.3,172.2L490.3,172.2L488.2,161.6ZM490.3,166.2L495.3,166.2L499.5,176.8L499.5,182.8L494.5,182.8L490.3,172.2ZM494.5,176.8L499.5,176.8L508,184.2L508,190.2L503,190.2L494.5,182.8ZM503,184.2L508,184.2L522.9,186.3L522.9,192.3L517.9,192.3L503,190.2ZM517.9,186.3L522.9,186.3L528.2,190.6L528.2,196.6L523.2,196.6L517.9,192.3ZM523.2,190.6L528.2,190.6L537.8,198L537.8,204L532.8,204L523.2,196.6ZM532.8,198L545.5,194.8L550.5,194.8L550.5,200.8L537.8,204L532.8,204ZM545.5,194.8L550.5,194.8L556.9,200.1L556.9,206.1L551.9,206.1L545.5,200.8ZM551.9,200.1L556.9,200.1L561.1,207.6L561.1,213.6L556.1,213.6L551.9,206.1ZM556.1,207.6L561.1,207.6L573.9,208.6L573.9,214.6L568.9,214.6L556.1,213.6ZM568.9,208.6L573.9,208.6L580.2,216.1L580.2,222.1L575.2,222.1L568.9,214.6ZM575.2,216.1L593,216.1L593,222.1L575.2,222.1ZM588,216.1L605,215L610,215L610,221L593,222.1L588,222.1ZM605,215L610,215L622.7,219.3L622.7,225.3L617.7,225.3L605,221ZM617.7,219.3L622.7,219.3L624.8,227.7L624.8,233.7L619.8,233.7L617.7,225.3ZM619.8,227.7L635.4,227.7L635.4,233.7L619.8,233.7ZM630.4,227.7L641,218.2L646,218.2L646,224.2L635.4,233.7L630.4,233.7ZM641,218.2L646,218.2L652.4,219.3L652.4,225.3L647.4,225.3L641,224.2ZM647.4,219.3L652.4,219.3L667.3,226.7L667.3,232.7L662.3,232.7L647.4,225.3ZM662.3,226.7L667.3,226.7L675.8,228.8L675.8,234.8L670.8,234.8L662.3,232.7ZM670.8,228.8L679.3,220.3L684.3,220.3L684.3,226.3L675.8,234.8L670.8,234.8ZM679.3,220.3L694.1,219.3L699.1,219.3L699.1,225.3L684.3,226.3L679.3,226.3ZM694.1,219.3L699.1,219.3L702.5,219.9L702.5,225.9L697.5,225.9L694.1,225.3ZM697.5,219.9L710.2,216.7L715.2,216.7L715.2,222.7L702.5,225.9L697.5,225.9ZM710.2,216.7L715.2,216.7L725.9,223.1L725.9,229.1L720.9,229.1L710.2,222.7ZM720.9,223.1L725.9,223.1L745,226.3L745,232.3L740,232.3L720.9,229.1ZM740,226.3L745,226.3L755.6,227.3L755.6,233.3L750.6,233.3L740,232.3ZM750.6,227.3L761.2,218.8L766.2,218.8L766.2,224.8L755.6,233.3L750.6,233.3ZM761.2,218.8L766.2,218.8L776.8,226.3L776.8,232.3L771.8,232.3L761.2,224.8ZM771.8,226.3L782.4,222L787.4,222L787.4,228L776.8,232.3L771.8,232.3ZM782.4,222L787.4,222L795.9,229.5L795.9,235.5L790.9,235.5L782.4,228ZM790.9,229.5L795.9,229.5L804.4,234.8L804.4,240.8L799.4,240.8L790.9,235.5ZM799.4,234.8L804.4,234.8L817.1,238L817.1,244L812.1,244L799.4,240.8ZM812.1,238L817.1,238L829.9,243.3L829.9,249.3L824.9,249.3L812.1,244ZM824.9,243.3L840.5,243.3L840.5,249.3L824.9,249.3ZM835.5,243.3L840.5,243.3L844.8,252.8L844.8,258.8L839.8,258.8L835.5,249.3ZM839.8,252.8L859.6,252.8L859.6,258.8L839.8,258.8ZM854.6,252.8L861,249.6L866,249.6L866,255.6L859.6,258.8L854.6,258.8ZM861,249.6L866,249.6L872.4,257.1L872.4,263.1L867.4,263.1L861,255.6ZM867.4,257.1L872.4,257.1L874.5,267.7L874.5,273.7L869.5,273.7L867.4,263.1ZM869.5,267.7L874.5,267.7L883,270.9L883,276.9L878,276.9L869.5,273.7ZM878,270.9L883,270.9L889.3,276.2L889.3,282.2L884.3,282.2L878,276.9ZM884.3,276.2L889.3,276.2L897.8,284.7L897.8,290.7L892.8,290.7L884.3,282.2ZM892.8,284.7L897.8,284.7L900,299.5L900,305.5L895,305.5L892.8,290.7ZM895,299.5L900,299.5L908.4,308L908.4,314L903.4,314L895,305.5ZM903.4,308L908.4,308L912.7,319.7L912.7,325.7L907.7,325.7L903.4,314ZM907.7,319.7L912.7,319.7L923.3,321.8L923.3,327.8L918.3,327.8L907.7,325.7ZM918.3,321.8L923.3,321.8L927.5,327.1L927.5,333.1L922.5,333.1L918.3,327.8ZM922.5,327.1L927.5,327.1L938.2,337.7L938.2,343.7L933.2,343.7L922.5,333.1ZM933.2,337.7L938.2,337.7L942.4,354.7L942.4,360.7L937.4,360.7L933.2,343.7ZM937.4,354.7L948,353.7L953,353.7L953,359.7L942.4,360.7L937.4,360.7ZM948,353.7L953,353.7L959.4,365.3L959.4,371.3L954.4,371.3L948,359.7ZM954.4,365.3L959.4,365.3L963.6,376L963.6,382L958.6,382L954.4,371.3ZM958.6,376L963.6,376L976.4,388.7L976.4,394.7L971.4,394.7L958.6,382ZM971.4,388.7L976.4,388.7L980.6,403.6L980.6,409.6L975.6,409.6L971.4,394.7ZM975.6,403.6L980.6,403.6L987,409.9L987,415.9L982,415.9L975.6,409.6ZM982,409.9L987,409.9L991.2,420.5L991.2,426.5L986.2,426.5L982,415.9ZM986.2,420.5L991.2,420.5L999.7,429L999.7,435L994.7,435L986.2,426.5ZM994.7,429L999.7,429L1005.2,434.2L1005.2,440.2L1000.2,440.2L994.7,435ZM1000.2,434.2L1005.2,434.2L1012.7,445.8L1012.7,451.8L1007.7,451.8L1000.2,440.2ZM1007.7,445.8L1012.7,445.8L1020.1,456.4L1020.1,462.4L1015.1,462.4L1007.7,451.8ZM1015.1,456.4L1020.1,456.4L1029.7,467.1L1029.7,473.1L1024.7,473.1L1015.1,462.4ZM1024.7,467.1L1029.7,467.1L1037.1,470.2L1037.1,476.2L1032.1,476.2L1024.7,473.1ZM1032.1,470.2L1037.1,470.2L1043.5,479.8L1043.5,485.8L1038.5,485.8L1032.1,476.2ZM1038.5,479.8L1043.5,479.8L1044.5,490.4L1044.5,496.4L1039.5,496.4L1038.5,485.8ZM1039.5,490.4L1044.5,490.4L1054.1,497.8L1054.1,503.8L1049.1,503.8L1039.5,496.4ZM1049.1,497.8L1054.1,497.8L1060.4,507.4L1060.4,513.4L1055.4,513.4L1049.1,503.8ZM1055.4,507.4L1060.4,507.4L1062.6,518L1062.6,524L1057.6,524L1055.4,513.4ZM1057.6,518L1062.6,518L1071.1,521.2L1071.1,527.2L1066.1,527.2L1057.6,524ZM1066.1,521.2L1071.1,521.2L1077.4,528.6L1077.4,534.6L1072.4,534.6L1066.1,527.2ZM1072.4,528.6L1077.4,528.6L1079.5,537.1L1079.5,543.1L1074.5,543.1L1072.4,534.6ZM1074.5,537.1L1079.5,537.1L1090.2,543.5L1090.2,549.5L1085.2,549.5L1074.5,543.1ZM1085.2,543.5L1090.2,543.5L1102.9,547.7L1102.9,553.7L1097.9,553.7L1085.2,549.5ZM1097.9,547.7L1102.9,547.7L1106.1,561.5L1106.1,567.5L1101.1,567.5L1097.9,553.7ZM1101.1,561.5L1106.1,561.5L1115.6,562.6L1115.6,568.6L1110.6,568.6L1101.1,567.5ZM1110.6,562.6L1115.6,562.6L1128.4,573.2L1128.4,579.2L1123.4,579.2L1110.6,568.6ZM1123.4,573.2L1128.4,573.2L1134.8,581.7L1134.8,587.7L1129.8,587.7L1123.4,579.2ZM1129.8,581.7L1134.8,581.7L1145.4,586L1145.4,592L1140.4,592L1129.8,587.7ZM1140.4,586L1145.4,586L1160.2,588.1L1160.2,594.1L1155.2,594.1L1140.4,592ZM1155.2,588.1L1160.2,588.1L1170.8,593.4L1170.8,599.4L1165.8,599.4L1155.2,594.1ZM1165.8,593.4L1170.8,593.4L1183.6,596.6L1183.6,602.6L1178.6,602.6L1165.8,599.4ZM1178.6,596.6L1183.6,596.6L1187.8,601.9L1187.8,607.9L1182.8,607.9L1178.6,602.6ZM1182.8,601.9L1195.6,597.6L1200.6,597.6L1200.6,603.6L1187.8,607.9L1182.8,607.9ZM1195.6,597.6L1200.6,597.6L1213.3,600.8L1213.3,606.8L1208.3,606.8L1195.6,603.6ZM1208.3,600.8L1228.2,600.8L1228.2,606.8L1208.3,606.8ZM1223.2,600.8L1228.2,600.8L1243,605.1L1243,611.1L1238,611.1L1223.2,606.8ZM1238,605.1L1257.1,601.9L1262.1,601.9L1262.1,607.9L1243,611.1L1238,611.1ZM1257.1,601.9L1262.1,601.9L1279.1,606.1L1279.1,612.1L1274.1,612.1L1257.1,607.9ZM1274.1,606.1L1283.9,606L1288.9,606L1288.9,612L1279.1,612.1L1274.1,612.1ZM1283.9,606L1288.9,606L1299.5,607L1299.5,613L1294.5,613L1283.9,612ZM1294.5,607L1305.1,603.8L1310.1,603.8L1310.1,609.8L1299.5,613L1294.5,613ZM1305.1,603.8L1320,599.6L1325,599.6L1325,605.6L1310.1,609.8L1305.1,609.8ZM1320,599.6L1336.9,596.4L1341.9,596.4L1341.9,602.4L1325,605.6L1320,605.6ZM1336.9,596.4L1341.9,596.4L1350.4,599.6L1350.4,605.6L1345.4,605.6L1336.9,602.4ZM1345.4,599.6L1351.8,594.3L1356.8,594.3L1356.8,600.3L1350.4,605.6L1345.4,605.6ZM1351.8,594.3L1366.7,589L1371.7,589L1371.7,595L1356.8,600.3L1351.8,600.3ZM1366.7,589L1379.4,586.9L1384.4,586.9L1384.4,592.9L1371.7,595L1366.7,595ZM1379.4,586.9L1385.8,580.5L1390.8,580.5L1390.8,586.5L1384.4,592.9L1379.4,592.9ZM1385.8,580.5L1398.5,577.3L1403.5,577.3L1403.5,583.3L1390.8,586.5L1385.8,586.5ZM1398.5,577.3L1404.9,573L1409.9,573L1409.9,579L1403.5,583.3L1398.5,583.3ZM1404.9,573L1415.5,568.8L1420.5,568.8L1420.5,574.8L1409.9,579L1404.9,579ZM1415.5,568.8L1428.2,565.6L1433.2,565.6L1433.2,571.6L1420.5,574.8L1415.5,574.8ZM1428.2,565.6L1430.4,558.2L1435.4,558.2L1435.4,564.2L1433.2,571.6L1428.2,571.6ZM1430.4,558.2L1441,555L1446,555L1446,561L1435.4,564.2L1430.4,564.2ZM1441,555L1453.7,548.6L1458.7,548.6L1458.7,554.6L1446,561L1441,561ZM1453.7,548.6L1458.7,548.6L1469.3,549.7L1469.3,555.7L1464.3,555.7L1453.7,554.6ZM1464.3,549.7L1472.8,544.4L1477.8,544.4L1477.8,550.4L1469.3,555.7L1464.3,555.7ZM1472.8,544.4L1485.6,539.1L1490.6,539.1L1490.6,545.1L1477.8,550.4L1472.8,550.4ZM1485.6,539.1L1489.8,534.8L1494.8,534.8L1494.8,540.8L1490.6,545.1L1485.6,545.1ZM1489.8,534.8L1502.5,530.6L1507.5,530.6L1507.5,536.6L1494.8,540.8L1489.8,540.8ZM1502.5,530.6L1517.4,524.2L1522.4,524.2L1522.4,530.2L1507.5,536.6L1502.5,536.6ZM1517.4,524.2L1528,518.9L1533,518.9L1533,524.9L1522.4,530.2L1517.4,530.2ZM1528,518.9L1539.7,514.7L1544.7,514.7L1544.7,520.7L1533,524.9L1528,524.9ZM1539.7,514.7L1544.7,514.7L1552.1,525.3L1552.1,531.3L1547.1,531.3L1539.7,520.7ZM1547.1,525.3L1555.6,523.2L1560.6,523.2L1560.6,529.2L1552.1,531.3L1547.1,531.3ZM1555.6,523.2L1560.6,523.2L1569.1,527.4L1569.1,533.4L1564.1,533.4L1555.6,529.2ZM1564.1,527.4L1576,527L1581,527L1581,533L1569.1,533.4L1564.1,533.4ZM1576,527L1585.6,523.3L1590.6,523.3L1590.6,529.3L1581,533L1576,533ZM1585.6,523.3L1590.6,523.3L1599.2,528.6L1599.2,534.6L1594.2,534.6L1585.6,529.3ZM1594.2,528.6L1599.2,528.6L1607.7,531.3L1607.7,537.3L1602.7,537.3L1594.2,534.6ZM1602.7,531.3L1615.2,531.3L1615.2,537.3L1602.7,537.3ZM1610.2,531.3L1615.5,529.1L1620.5,529.1L1620.5,535.1L1615.2,537.3L1610.2,537.3ZM1615.5,529.1L1616.6,523.8L1621.6,523.8L1621.6,529.8L1620.5,535.1L1615.5,535.1ZM1616.6,523.8L1628,523.8L1628,529.8L1616.6,529.8ZM1623,523.8L1628,523.8L1635.5,527L1635.5,533L1630.5,533L1623,529.8ZM1630.5,527L1635.5,527L1640.8,532.3L1640.8,538.3L1635.8,538.3L1630.5,533ZM1635.8,532.3L1640.8,532.3L1642.9,540.9L1642.9,546.9L1637.9,546.9L1635.8,538.3ZM1637.9,540.9L1642.9,540.9L1649.3,543.5L1649.3,549.5L1644.3,549.5L1637.9,546.9ZM1644.3,543.5L1649.3,543.5L1657.8,546.2L1657.8,552.2L1652.8,552.2L1644.3,549.5ZM1652.8,546.2L1657.8,546.2L1666.4,548.3L1666.4,554.3L1661.4,554.3L1652.8,552.2ZM1661.4,548.3L1668.8,544.6L1673.8,544.6L1673.8,550.6L1666.4,554.3L1661.4,554.3ZM1668.8,544.6L1673.8,544.6L1681.3,549.4L1681.3,555.4L1676.3,555.4L1668.8,550.6ZM1676.3,549.4L1681.3,549.4L1687.7,553.7L1687.7,559.7L1682.7,559.7L1676.3,555.4ZM1682.7,553.7L1687.7,553.7L1696.2,554.7L1696.2,560.7L1691.2,560.7L1682.7,559.7ZM1691.2,554.7L1692.3,549.4L1697.3,549.4L1697.3,555.4L1696.2,560.7L1691.2,560.7ZM1692.3,549.4L1697.3,549.4L1704.8,554.7L1704.8,560.7L1699.8,560.7L1692.3,555.4ZM1699.8,554.7L1706.2,550.5L1711.2,550.5L1711.2,556.5L1704.8,560.7L1699.8,560.7ZM1706.2,550.5L1711.2,550.5L1719.7,555.8L1719.7,561.8L1714.7,561.8L1706.2,556.5ZM1714.7,555.8L1719.7,555.8L1726.1,560.1L1726.1,566.1L1721.1,566.1L1714.7,561.8ZM1721.1,560.1L1733.6,560.1L1733.6,566.1L1721.1,566.1ZM1728.6,560.1L1732.8,553.7L1737.8,553.7L1737.8,559.7L1733.6,566.1L1728.6,566.1ZM1732.8,553.7L1737.8,553.7L1745.3,560.1L1745.3,566.1L1740.3,566.1L1732.8,559.7ZM1740.3,560.1L1745.3,560.1L1753.9,563.3L1753.9,569.3L1748.9,569.3L1740.3,566.1ZM1748.9,563.3L1753.9,563.3L1758.7,567.5L1758.7,573.5L1753.7,573.5L1748.9,569.3Z"/>
<path fill="#ff00ff" shape-rendering="crispEdges" d="M122.6,1072.4L131,1062.3L136,1062.3L136,1068.3L127.6,1078.4L122.6,1078.4ZM131,1062.3L139.4,1052.2L144.4,1052.2L144.4,1058.2L136,1068.3L131,1068.3ZM139.4,1052.2L147.8,1038.7L152.8,1038.7L152.8,1044.7L144.4,1058.2L139.4,1058.2ZM147.8,1038.7L154.6,1026.9L159.6,1026.9L159.6,1032.9L152.8,1044.7L147.8,1044.7ZM154.6,1026.9L163,1015.1L168,1015.1L168,1021.1L159.6,1032.9L154.6,1032.9ZM163,1015.1L168,1005L173,1005L173,1011L168,1021.1L163,1021.1ZM168,1005L174.8,994.9L179.8,994.9L179.8,1000.9L173,1011L168,1011ZM174.8,994.9L181.5,986.5L186.5,986.5L186.5,992.5L179.8,1000.9L174.8,1000.9ZM181.5,986.5L186.6,976.4L191.6,976.4L191.6,982.4L186.5,992.5L181.5,992.5ZM186.6,976.4L191.6,968L196.6,968L196.6,974L191.6,982.4L186.6,982.4ZM191.6,968L198.3,959.5L203.3,959.5L203.3,965.5L196.6,974L191.6,974ZM198.3,959.5L203.4,947.7L208.4,947.7L208.4,953.7L203.3,965.5L198.3,965.5ZM203.4,947.7L211.8,941.8L216.8,941.8L216.8,947.8L208.4,953.7L203.4,953.7ZM211.8,941.8L225.3,934.3L230.3,934.3L230.3,940.3L216.8,947.8L211.8,947.8ZM225.3,934.3L228.7,928.4L233.7,928.4L233.7,934.4L230.3,940.3L225.3,940.3ZM228.7,928.4L235.4,924.2L240.4,924.2L240.4,930.2L233.7,934.4L228.7,934.4ZM235.4,924.2L245.5,917.4L250.5,917.4L250.5,923.4L240.4,930.2L235.4,930.2ZM245.5,917.4L257.3,914.9L262.3,914.9L262.3,920.9L250.5,923.4L245.5,923.4ZM257.3,914.9L269.1,911.5L274.1,911.5L274.1,917.5L262.3,920.9L257.3,920.9ZM269.1,911.5L280.9,903.9L285.9,903.9L285.9,909.9L274.1,917.5L269.1,917.5ZM280.9,903.9L285.9,903.9L296,904.8L296,910.8L291,910.8L280.9,909.9ZM291,904.8L301.1,898.9L306.1,898.9L306.1,904.9L296,910.8L291,910.8ZM301.1,898.9L306.1,898.9L319.6,900.6L319.6,906.6L314.6,906.6L301.1,904.9ZM314.6,900.6L319.6,900.6L333,901.4L333,907.4L328,907.4L314.6,906.6ZM328,901.4L333,901.4L341.5,904.8L341.5,910.8L336.5,910.8L328,907.4ZM336.5,904.8L353.3,904.8L353.3,910.8L336.5,910.8ZM348.3,904.8L353.3,904.8L365,909.8L365,915.8L360,915.8L348.3,910.8ZM360,909.8L380.3,906.5L385.3,906.5L385.3,912.5L365,915.8L360,915.8ZM380.3,906.5L385.3,906.5L395.5,909.8L395.5,915.8L390.5,915.8L380.3,912.5ZM390.5,909.8L402.2,907.3L407.2,907.3L407.2,913.3L395.5,915.8L390.5,915.8ZM402.2,907.3L407.2,907.3L415.6,914.9L415.6,920.9L410.6,920.9L402.2,913.3ZM410.6,914.9L422.6,914.9L422.6,920.9L410.6,920.9ZM417.6,914.9L429.3,914.9L429.3,920.9L417.6,920.9ZM424.3,914.9L429.3,914.9L437.8,917.4L437.8,923.4L432.8,923.4L424.3,920.9ZM432.8,917.4L437.8,917.4L441.1,922.5L441.1,928.5L436.1,928.5L432.8,923.4ZM436.1,922.5L442.9,921.6L447.9,921.6L447.9,927.6L441.1,928.5L436.1,928.5ZM442.9,921.6L451.3,920L456.3,920L456.3,926L447.9,927.6L442.9,927.6ZM451.3,920L456.3,920L468.1,923.3L468.1,929.3L463.1,929.3L451.3,926ZM463.1,923.3L468.1,923.3L471.5,927.5L471.5,933.5L466.5,933.5L463.1,929.3ZM466.5,927.5L483.2,927.5L483.2,933.5L466.5,933.5ZM478.2,927.5L483.2,927.5L496.7,930.9L496.7,936.9L491.7,936.9L478.2,933.5ZM491.7,930.9L496.7,930.9L506.8,932.6L506.8,938.6L501.8,938.6L491.7,936.9ZM501.8,932.6L506.8,932.6L520.3,933.4L520.3,939.4L515.3,939.4L501.8,938.6ZM515.3,933.4L520.3,933.4L530.4,936.8L530.4,942.8L525.4,942.8L515.3,939.4ZM525.4,936.8L530.4,936.8L533.8,941L533.8,947L528.8,947L525.4,942.8ZM528.8,941L533.8,941L545.6,941.8L545.6,947.8L540.6,947.8L528.8,947ZM540.6,941.8L550.7,939.3L555.7,939.3L555.7,945.3L545.6,947.8L540.6,947.8ZM550.7,939.3L555.7,939.3L572.5,941.8L572.5,947.8L567.5,947.8L550.7,945.3ZM567.5,941.8L572.5,941.8L580.9,946.1L580.9,952.1L575.9,952.1L567.5,947.8ZM575.9,946.1L589.4,944.4L594.4,944.4L594.4,950.4L580.9,952.1L575.9,952.1ZM589.4,944.4L594.4,944.4L606.2,947.7L606.2,953.7L601.2,953.7L589.4,950.4ZM601.2,947.7L606.2,947.7L614.6,950.3L614.6,956.3L609.6,956.3L601.2,953.7ZM609.6,950.3L621.4,949.4L626.4,949.4L626.4,955.4L614.6,956.3L609.6,956.3ZM621.4,949.4L629.8,945.2L634.8,945.2L634.8,951.2L626.4,955.4L621.4,955.4ZM629.8,945.2L634.8,945.2L644.9,946.9L644.9,952.9L639.9,952.9L629.8,951.2ZM639.9,946.9L651.7,944.4L656.7,944.4L656.7,950.4L644.9,952.9L639.9,952.9ZM651.7,944.4L656.7,944.4L665.2,946.1L665.2,952.1L660.2,952.1L651.7,950.4ZM660.2,946.1L665.2,946.1L670.2,951.1L670.2,957.1L665.2,957.1L660.2,952.1ZM665.2,951.1L670.2,951.1L682,953.6L682,959.6L677,959.6L665.2,957.1ZM677,953.6L682,953.6L688.7,960.4L688.7,966.4L683.7,966.4L677,959.6ZM683.7,960.4L693.8,956.2L698.8,956.2L698.8,962.2L688.7,966.4L683.7,966.4ZM693.8,956.2L698.8,956.2L708.9,957.8L708.9,963.8L703.9,963.8L693.8,962.2ZM703.9,957.8L708.9,957.8L710.9,959L710.9,965L705.9,965L703.9,963.8ZM705.9,959L710.9,959L713.4,967.4L713.4,973.4L708.4,973.4L705.9,965ZM708.4,967.4L713.4,967.4L724.4,968.3L724.4,974.3L719.4,974.3L708.4,973.4ZM719.4,968.3L724.4,968.3L736.2,969.1L736.2,975.1L731.2,975.1L719.4,974.3ZM731.2,969.1L736.2,969.1L741.2,973.3L741.2,979.3L736.2,979.3L731.2,975.1ZM736.2,973.3L746.3,972.5L751.3,972.5L751.3,978.5L741.2,979.3L736.2,979.3ZM746.3,972.5L751.3,972.5L753,977.5L753,983.5L748,983.5L746.3,978.5ZM748,977.5L759.8,976.7L764.8,976.7L764.8,982.7L753,983.5L748,983.5ZM759.8,976.7L764.8,976.7L769.9,980.9L769.9,986.9L764.9,986.9L759.8,982.7ZM764.9,980.9L769.9,980.9L781.7,981.7L781.7,987.7L776.7,987.7L764.9,986.9ZM776.7,981.7L781.7,981.7L796.8,986L796.8,992L791.8,992L776.7,987.7ZM791.8,986L796.8,986L810.3,989.3L810.3,995.3L805.3,995.3L791.8,992ZM805.3,989.3L810.3,989.3L818.7,997.7L818.7,1003.7L813.7,1003.7L805.3,995.3ZM813.7,997.7L818.7,997.7L830.5,1001.1L830.5,1007.1L825.5,1007.1L813.7,1003.7ZM825.5,1001.1L830.5,1001.1L840.6,1005.3L840.6,1011.3L835.6,1011.3L825.5,1007.1ZM835.6,1005.3L840.6,1005.3L844,1012.9L844,1018.9L839,1018.9L835.6,1011.3ZM839,1012.9L844,1012.9L849,1018.8L849,1024.8L844,1024.8L839,1018.9ZM844,1018.8L849,1018.8L864.2,1021.3L864.2,1027.3L859.2,1027.3L844,1024.8ZM859.2,1021.3L864.2,1021.3L870.9,1026.4L870.9,1032.4L865.9,1032.4L859.2,1027.3ZM865.9,1026.4L870.9,1026.4L881,1030.6L881,1036.6L876,1036.6L865.9,1032.4ZM876,1030.6L881,1030.6L884.4,1036.5L884.4,1042.5L879.4,1042.5L876,1036.6ZM879.4,1036.5L884.4,1036.5L896.2,1039.9L896.2,1045.9L891.2,1045.9L879.4,1042.5ZM891.2,1039.9L896.2,1039.9L908,1045.7L908,1051.7L903,1051.7L891.2,1045.9ZM903,1045.7L908,1045.7L919.8,1050L919.8,1056L914.8,1056L903,1051.7ZM914.8,1050L919.8,1050L924.8,1054.2L924.8,1060.2L919.8,1060.2L914.8,1056ZM919.8,1054.2L924.8,1054.2L941.7,1055.9L941.7,1061.9L936.7,1061.9L919.8,1060.2ZM936.7,1055.9L941.7,1055.9L951.8,1061.7L951.8,1067.7L946.8,1067.7L936.7,1061.9ZM946.8,1061.7L951.8,1061.7L965.3,1066.8L965.3,1072.8L960.3,1072.8L946.8,1067.7ZM960.3,1066.8L965.3,1066.8L973.7,1072.7L973.7,1078.7L968.7,1078.7L960.3,1072.8ZM968.7,1072.7L973.7,1072.7L985.5,1076.9L985.5,1082.9L980.5,1082.9L968.7,1078.7ZM980.5,1076.9L985.5,1076.9L992.5,1078.1L992.5,1084.1L987.5,1084.1L980.5,1082.9ZM987.5,1078.1L992.5,1078.1L1007.7,1080.6L1007.7,1086.6L1002.7,1086.6L987.5,1084.1ZM1002.7,1080.6L1007.7,1080.6L1014.4,1084L1014.4,1090L1009.4,1090L1002.7,1086.6ZM1009.4,1084L1014.4,1084L1034.6,1086.5L1034.6,1092.5L1029.6,1092.5L1009.4,1090ZM1029.6,1086.5L1034.6,1086.5L1048.1,1089L1048.1,1095L1043.1,1095L1029.6,1092.5ZM1043.1,1089L1048.1,1089L1068.3,1091.5L1068.3,1097.5L1063.3,1097.5L1043.1,1095ZM1063.3,1091.5L1071.7,1089.9L1076.7,1089.9L1076.7,1095.9L1068.3,1097.5L1063.3,1097.5ZM1071.7,1089.9L1076.7,1089.9L1090.2,1093.2L1090.2,1099.2L1085.2,1099.2L1071.7,1095.9ZM1085.2,1093.2L1090.2,1093.2L1110.4,1094.1L1110.4,1100.1L1105.4,1100.1L1085.2,1099.2ZM1105.4,1094.1L1110.4,1094.1L1135.7,1094.9L1135.7,1100.9L1130.7,1100.9L1105.4,1100.1ZM1130.7,1094.9L1152.5,1094.9L1152.5,1100.9L1130.7,1100.9ZM1147.5,1094.9L1152.5,1094.9L1160.9,1096.6L1160.9,1102.6L1155.9,1102.6L1147.5,1100.9ZM1155.9,1096.6L1177.8,1096.6L1177.8,1102.6L1155.9,1102.6ZM1172.8,1096.6L1182.9,1094.1L1187.9,1094.1L1187.9,1100.1L1177.8,1102.6L1172.8,1102.6ZM1182.9,1094.1L1187.9,1094.1L1199.7,1097.4L1199.7,1103.4L1194.7,1103.4L1182.9,1100.1ZM1194.7,1097.4L1203.1,1094.9L1208.1,1094.9L1208.1,1100.9L1199.7,1103.4L1194.7,1103.4ZM1203.1,1094.9L1208.1,1094.9L1224.9,1096.6L1224.9,1102.6L1219.9,1102.6L1203.1,1100.9ZM1219.9,1096.6L1226.7,1094.1L1231.7,1094.1L1231.7,1100.1L1224.9,1102.6L1219.9,1102.6ZM1226.7,1094.1L1231.7,1094.1L1245.1,1095.7L1245.1,1101.7L1240.1,1101.7L1226.7,1100.1ZM1240.1,1095.7L1248.6,1093.2L1253.6,1093.2L1253.6,1099.2L1245.1,1101.7L1240.1,1101.7ZM1248.6,1093.2L1265.4,1092.4L1270.4,1092.4L1270.4,1098.4L1253.6,1099.2L1248.6,1099.2ZM1265.4,1092.4L1270.4,1092.4L1282.5,1092.8L1282.5,1098.8L1277.5,1098.8L1265.4,1098.4ZM1277.5,1092.8L1297.7,1090.6L1302.7,1090.6L1302.7,1096.6L1282.5,1098.8L1277.5,1098.8ZM1297.7,1090.6L1319.6,1083.9L1324.6,1083.9L1324.6,1089.9L1302.7,1096.6L1297.7,1096.6ZM1319.6,1083.9L1324.6,1083.9L1339.8,1084.4L1339.8,1090.4L1334.8,1090.4L1319.6,1089.9ZM1334.8,1084.4L1348.2,1078.8L1353.2,1078.8L1353.2,1084.8L1339.8,1090.4L1334.8,1090.4ZM1348.2,1078.8L1365.1,1075.4L1370.1,1075.4L1370.1,1081.4L1353.2,1084.8L1348.2,1084.8ZM1365.1,1075.4L1385.3,1071.2L1390.3,1071.2L1390.3,1077.2L1370.1,1081.4L1365.1,1081.4ZM1385.3,1071.2L1395.4,1067L1400.4,1067L1400.4,1073L1390.3,1077.2L1385.3,1077.2ZM1395.4,1067L1415.6,1062L1420.6,1062L1420.6,1068L1400.4,1073L1395.4,1073ZM1415.6,1062L1425.7,1059.4L1430.7,1059.4L1430.7,1065.4L1420.6,1068L1415.6,1068ZM1425.7,1059.4L1444.2,1055.2L1449.2,1055.2L1449.2,1061.2L1430.7,1065.4L1425.7,1065.4ZM1444.2,1055.2L1462.8,1051L1467.8,1051L1467.8,1057L1449.2,1061.2L1444.2,1061.2ZM1462.8,1051L1476.3,1046.8L1481.3,1046.8L1481.3,1052.8L1467.8,1057L1462.8,1057ZM1476.3,1046.8L1498.1,1042.6L1503.1,1042.6L1503.1,1048.6L1481.3,1052.8L1476.3,1052.8ZM1498.1,1042.6L1516.7,1041.7L1521.7,1041.7L1521.7,1047.7L1503.1,1048.6L1498.1,1048.6ZM1516.7,1041.7L1535.2,1040.1L1540.2,1040.1L1540.2,1046.1L1521.7,1047.7L1516.7,1047.7ZM1535.2,1040.1L1540.2,1040.1L1562.1,1042.6L1562.1,1048.6L1557.1,1048.6L1535.2,1046.1ZM1557.1,1042.6L1562.1,1042.6L1572.5,1042.9L1572.5,1048.9L1567.5,1048.9L1557.1,1048.6ZM1567.5,1042.9L1572.8,1041.3L1577.8,1041.3L1577.8,1047.3L1572.5,1048.9L1567.5,1048.9ZM1572.8,1041.3L1577.8,1041.3L1581,1045L1581,1051L1576,1051L1572.8,1047.3ZM1576,1045L1581.4,1043.9L1586.4,1043.9L1586.4,1049.9L1581,1051L1576,1051ZM1581.4,1043.9L1584.6,1039.7L1589.6,1039.7L1589.6,1045.7L1586.4,1049.9L1581.4,1049.9ZM1584.6,1039.7L1593.8,1039.7L1593.8,1045.7L1584.6,1045.7ZM1588.8,1039.7L1593.8,1039.7L1598.1,1043.9L1598.1,1049.9L1593.1,1049.9L1588.8,1045.7ZM1593.1,1043.9L1598.1,1043.9L1604.5,1046.1L1604.5,1052.1L1599.5,1052.1L1593.1,1049.9ZM1599.5,1046.1L1605.9,1042.3L1610.9,1042.3L1610.9,1048.3L1604.5,1052.1L1599.5,1052.1ZM1605.9,1042.3L1610.9,1042.3L1619.4,1043.9L1619.4,1049.9L1614.4,1049.9L1605.9,1048.3ZM1614.4,1043.9L1619.4,1043.9L1625.8,1045.5L1625.8,1051.5L1620.8,1051.5L1614.4,1049.9ZM1620.8,1045.5L1628.3,1041.8L1633.3,1041.8L1633.3,1047.8L1625.8,1051.5L1620.8,1051.5ZM1628.3,1041.8L1633.3,1041.8L1647.2,1045.5L1647.2,1051.5L1642.2,1051.5L1628.3,1047.8ZM1642.2,1045.5L1657.8,1045.5L1657.8,1051.5L1642.2,1051.5ZM1652.8,1045.5L1657.8,1045.5L1668.5,1047.1L1668.5,1053.1L1663.5,1053.1L1652.8,1051.5ZM1663.5,1047.1L1669.9,1046.6L1674.9,1046.6L1674.9,1052.6L1668.5,1053.1L1663.5,1053.1ZM1669.9,1046.6L1674.9,1046.6L1681.3,1052.5L1681.3,1058.5L1676.3,1058.5L1669.9,1052.6ZM1676.3,1052.5L1681.3,1052.5L1686.6,1054.6L1686.6,1060.6L1681.6,1060.6L1676.3,1058.5ZM1681.6,1054.6L1684.8,1051.4L1689.8,1051.4L1689.8,1057.4L1686.6,1060.6L1681.6,1060.6ZM1684.8,1051.4L1689.8,1051.4L1698.4,1051.9L1698.4,1057.9L1693.4,1057.9L1684.8,1057.4ZM1693.4,1051.9L1698.4,1051.9L1701.6,1056.7L1701.6,1062.7L1696.6,1062.7L1693.4,1057.9ZM1696.6,1056.7L1700.8,1053.5L1705.8,1053.5L1705.8,1059.5L1701.6,1062.7L1696.6,1062.7ZM1700.8,1053.5L1712.6,1051.9L1717.6,1051.9L1717.6,1057.9L1705.8,1059.5L1700.8,1059.5ZM1712.6,1051.9L1717.6,1051.9L1726.1,1057.8L1726.1,1063.8L1721.1,1063.8L1712.6,1057.9ZM1721.1,1057.8L1726.1,1057.8L1732.5,1058.9L1732.5,1064.9L1727.5,1064.9L1721.1,1063.8ZM1727.5,1058.9L1733.9,1055.7L1738.9,1055.7L1738.9,1061.7L1732.5,1064.9L1727.5,1064.9ZM1733.9,1055.7L1738.9,1055.7L1747.4,1056.7L1747.4,1062.7L1742.4,1062.7L1733.9,1061.7ZM1742.4,1056.7L1747.4,1056.7L1758.7,1058.9L1758.7,1064.9L1753.7,1064.9L1742.4,1062.7Z"/>
<path fill="#000000" shape-rendering="crispEdges" d="M122.6,1078.3L131,1072.4L136,1072.4L136,1078.4L127.6,1084.3L122.6,1084.3ZM131,1072.4L139.4,1062.3L144.4,1062.3L144.4,1068.3L136,1078.4L131,1078.4ZM139.4,1062.3L147.8,1055.5L152.8,1055.5L152.8,1061.5L144.4,1068.3L139.4,1068.3ZM147.8,1055.5L154.6,1045.4L159.6,1045.4L159.6,1051.4L152.8,1061.5L147.8,1061.5ZM154.6,1045.4L157.9,1037L162.9,1037L162.9,1043L159.6,1051.4L154.6,1051.4ZM157.9,1037L166.3,1035.3L171.3,1035.3L171.3,1041.3L162.9,1043L157.9,1043ZM166.3,1035.3L168,1025.2L173,1025.2L173,1031.2L171.3,1041.3L166.3,1041.3ZM168,1025.2L179.8,1015.1L184.8,1015.1L184.8,1021.1L173,1031.2L168,1031.2ZM179.8,1015.1L186.6,1008.4L191.6,1008.4L191.6,1014.4L184.8,1021.1L179.8,1021.1ZM186.6,1008.4L191.6,996.6L196.6,996.6L196.6,1002.6L191.6,1014.4L186.6,1014.4ZM191.6,996.6L198.3,989.9L203.3,989.9L203.3,995.9L196.6,1002.6L191.6,1002.6ZM198.3,989.9L205.1,979.7L210.1,979.7L210.1,985.7L203.3,995.9L198.3,995.9ZM205.1,979.7L213.5,971.3L218.5,971.3L218.5,977.3L210.1,985.7L205.1,985.7ZM213.5,971.3L221.9,962.9L226.9,962.9L226.9,968.9L218.5,977.3L213.5,977.3ZM221.9,962.9L230.4,954.5L235.4,954.5L235.4,960.5L226.9,968.9L221.9,968.9ZM230.4,954.5L242.1,942.7L247.1,942.7L247.1,948.7L235.4,960.5L230.4,960.5ZM242.1,942.7L250.6,935.1L255.6,935.1L255.6,941.1L247.1,948.7L242.1,948.7ZM250.6,935.1L264,925.8L269,925.8L269,931.8L255.6,941.1L250.6,941.1ZM264,925.8L279.2,920L284.2,920L284.2,926L269,931.8L264,931.8ZM279.2,920L307.8,920L307.8,926L279.2,926ZM302.8,920L328,920L328,926L302.8,926ZM323,920L328,920L341.5,924.2L341.5,930.2L336.5,930.2L323,926ZM336.5,924.2L341.5,924.2L365,925.8L365,931.8L360,931.8L336.5,930.2ZM360,925.8L365,925.8L378.5,930.1L378.5,936.1L373.5,936.1L360,931.8ZM373.5,930.1L378.5,930.1L405.5,930.9L405.5,936.9L400.5,936.9L373.5,936.1ZM400.5,930.9L405.5,930.9L410.5,936L410.5,942L405.5,942L400.5,936.9ZM405.5,936L427.7,936L427.7,942L405.5,942ZM422.7,936L427.7,936L437.8,941L437.8,947L432.8,947L422.7,942ZM432.8,941L437.8,941L441.1,945.2L441.1,951.2L436.1,951.2L432.8,947ZM436.1,945.2L444.6,943.5L449.6,943.5L449.6,949.5L441.1,951.2L436.1,951.2ZM444.6,943.5L449.6,943.5L459.7,946.9L459.7,952.9L454.7,952.9L444.6,949.5ZM454.7,946.9L459.7,946.9L469.8,951.1L469.8,957.1L464.8,957.1L454.7,952.9ZM464.8,951.1L474.9,947.7L479.9,947.7L479.9,953.7L469.8,957.1L464.8,957.1ZM474.9,947.7L479.9,947.7L491.7,952.8L491.7,958.8L486.7,958.8L474.9,953.7ZM486.7,952.8L491.7,952.8L506.8,955.3L506.8,961.3L501.8,961.3L486.7,958.8ZM501.8,955.3L506.8,955.3L520.3,957.8L520.3,963.8L515.3,963.8L501.8,961.3ZM515.3,957.8L520.3,957.8L533.8,962.1L533.8,968.1L528.8,968.1L515.3,963.8ZM528.8,962.1L533.8,962.1L545.6,962.9L545.6,968.9L540.6,968.9L528.8,968.1ZM540.6,962.9L545.6,962.9L554,967.1L554,973.1L549,973.1L540.6,968.9ZM549,967.1L559.1,966.3L564.1,966.3L564.1,972.3L554,973.1L549,973.1ZM559.1,966.3L564.1,966.3L580.9,970.5L580.9,976.5L575.9,976.5L559.1,972.3ZM575.9,970.5L580.9,970.5L597.8,976.4L597.8,982.4L592.8,982.4L575.9,976.5ZM592.8,976.4L597.8,976.4L614.6,980.6L614.6,986.6L609.6,986.6L592.8,982.4ZM609.6,980.6L614.6,980.6L631.4,982.3L631.4,988.3L626.4,988.3L609.6,986.6ZM626.4,982.3L631.4,982.3L648.3,984L648.3,990L643.3,990L626.4,988.3ZM643.3,984L665.2,981.4L670.2,981.4L670.2,987.4L648.3,990L643.3,990ZM665.2,981.4L670.2,981.4L690.4,984L690.4,990L685.4,990L665.2,987.4ZM685.4,984L690.4,984L702.5,984.3L702.5,990.3L697.5,990.3L685.4,990ZM697.5,984.3L707.6,983.4L712.6,983.4L712.6,989.4L702.5,990.3L697.5,990.3ZM707.6,983.4L712.6,983.4L719.3,986L719.3,992L714.3,992L707.6,989.4ZM714.3,986L719.3,986L727.8,988.5L727.8,994.5L722.8,994.5L714.3,992ZM722.8,988.5L727.8,986L732.8,986L732.8,992L727.8,994.5L722.8,994.5ZM727.8,986L732.8,986L742.9,991.8L742.9,997.8L737.9,997.8L727.8,992ZM737.9,991.8L746.3,987.6L751.3,987.6L751.3,993.6L742.9,997.8L737.9,997.8ZM746.3,987.6L769.9,987.6L769.9,993.6L746.3,993.6ZM764.9,987.6L769.9,987.6L786.7,988.5L786.7,994.5L781.7,994.5L764.9,993.6ZM781.7,988.5L786.7,988.5L803.6,992.7L803.6,998.7L798.6,998.7L781.7,994.5ZM798.6,992.7L803.6,992.7L813.7,993.5L813.7,999.5L808.7,999.5L798.6,998.7ZM808.7,993.5L820.5,991L825.5,991L825.5,997L813.7,999.5L808.7,999.5ZM820.5,991L825.5,991L833.9,992.7L833.9,998.7L828.9,998.7L820.5,997ZM828.9,992.7L833.9,992.7L845.7,995.2L845.7,1001.2L840.7,1001.2L828.9,998.7ZM840.7,995.2L845.7,995.2L862.5,997.7L862.5,1003.7L857.5,1003.7L840.7,1001.2ZM857.5,997.7L862.5,997.7L870.9,999.4L870.9,1005.4L865.9,1005.4L857.5,1003.7ZM865.9,999.4L879.4,997.7L884.4,997.7L884.4,1003.7L870.9,1005.4L865.9,1005.4ZM879.4,997.7L884.4,997.7L892.8,1001.1L892.8,1007.1L887.8,1007.1L879.4,1003.7ZM887.8,1001.1L892.8,1001.1L913,1004.5L913,1010.5L908,1010.5L887.8,1007.1ZM908,1004.5L921.5,1002.8L926.5,1002.8L926.5,1008.8L913,1010.5L908,1010.5ZM921.5,1002.8L926.5,1002.8L943.4,1006.2L943.4,1012.2L938.4,1012.2L921.5,1008.8ZM938.4,1006.2L943.4,1006.2L963.6,1007.8L963.6,1013.8L958.6,1013.8L938.4,1012.2ZM958.6,1007.8L973.7,1007L978.7,1007L978.7,1013L963.6,1013.8L958.6,1013.8ZM973.7,1007L978.7,1007L987.2,1011.2L987.2,1017.2L982.2,1017.2L973.7,1013ZM982.2,1011.2L987.5,1009.8L992.5,1009.8L992.5,1015.8L987.2,1017.2L982.2,1017.2ZM987.5,1009.8L1001,1007.3L1006,1007.3L1006,1013.3L992.5,1015.8L987.5,1015.8ZM1001,1007.3L1006,1007.3L1019.5,1010.7L1019.5,1016.7L1014.5,1016.7L1001,1013.3ZM1014.5,1010.7L1024.6,1009L1029.6,1009L1029.6,1015L1019.5,1016.7L1014.5,1016.7ZM1024.6,1009L1029.6,1009L1039.7,1013.2L1039.7,1019.2L1034.7,1019.2L1024.6,1015ZM1034.7,1013.2L1049.8,1009.8L1054.8,1009.8L1054.8,1015.8L1039.7,1019.2L1034.7,1019.2ZM1049.8,1009.8L1054.8,1009.8L1063.2,1012.4L1063.2,1018.4L1058.2,1018.4L1049.8,1015.8ZM1058.2,1012.4L1076.7,1012.4L1076.7,1018.4L1058.2,1018.4ZM1071.7,1012.4L1076.7,1012.4L1083.5,1018.3L1083.5,1024.3L1078.5,1024.3L1071.7,1018.4ZM1078.5,1018.3L1098.6,1018.3L1098.6,1024.3L1078.5,1024.3ZM1093.6,1018.3L1098.6,1018.3L1103.7,1023.3L1103.7,1029.3L1098.7,1029.3L1093.6,1024.3ZM1098.7,1023.3L1112.1,1020.8L1117.1,1020.8L1117.1,1026.8L1103.7,1029.3L1098.7,1029.3ZM1112.1,1020.8L1117.1,1020.8L1125.6,1023.3L1125.6,1029.3L1120.6,1029.3L1112.1,1026.8ZM1120.6,1023.3L1134,1021.6L1139,1021.6L1139,1027.6L1125.6,1029.3L1120.6,1029.3ZM1134,1021.6L1139,1021.6L1145.8,1025L1145.8,1031L1140.8,1031L1134,1027.6ZM1140.8,1025L1147.5,1020.8L1152.5,1020.8L1152.5,1026.8L1145.8,1031L1140.8,1031ZM1147.5,1020.8L1152.5,1020.8L1159.3,1025L1159.3,1031L1154.3,1031L1147.5,1026.8ZM1154.3,1025L1159.3,1025L1171,1025.8L1171,1031.8L1166,1031.8L1154.3,1031ZM1166,1025.8L1171,1025.8L1181.1,1029.2L1181.1,1035.2L1176.1,1035.2L1166,1031.8ZM1176.1,1029.2L1181.1,1029.2L1198,1030.1L1198,1036.1L1193,1036.1L1176.1,1035.2ZM1193,1030.1L1198,1030.1L1204.7,1033.4L1204.7,1039.4L1199.7,1039.4L1193,1036.1ZM1199.7,1033.4L1208.2,1030.9L1213.2,1030.9L1213.2,1036.9L1204.7,1039.4L1199.7,1039.4ZM1208.2,1030.9L1213.2,1030.9L1216.5,1035.1L1216.5,1041.1L1211.5,1041.1L1208.2,1036.9ZM1211.5,1035.1L1223.3,1034.3L1228.3,1034.3L1228.3,1040.3L1216.5,1041.1L1211.5,1041.1ZM1223.3,1034.3L1228.3,1034.3L1238.4,1036.8L1238.4,1042.8L1233.4,1042.8L1223.3,1040.3ZM1233.4,1036.8L1238.4,1036.8L1256.9,1037.6L1256.9,1043.6L1251.9,1043.6L1233.4,1042.8ZM1251.9,1037.6L1256.9,1037.6L1275.5,1039.3L1275.5,1045.3L1270.5,1045.3L1251.9,1043.6ZM1270.5,1039.3L1275.5,1039.3L1282.5,1040.1L1282.5,1046.1L1277.5,1046.1L1270.5,1045.3ZM1277.5,1040.1L1282.5,1040.1L1297.7,1040.6L1297.7,1046.6L1292.7,1046.6L1277.5,1046.1ZM1292.7,1040.6L1297.7,1040.6L1304.4,1043.4L1304.4,1049.4L1299.4,1049.4L1292.7,1046.6ZM1299.4,1043.4L1304.4,1043.4L1324.6,1044.3L1324.6,1050.3L1319.6,1050.3L1299.4,1049.4ZM1319.6,1044.3L1344.9,1043.4L1349.9,1043.4L1349.9,1049.4L1324.6,1050.3L1319.6,1050.3ZM1344.9,1043.4L1365.1,1042.6L1370.1,1042.6L1370.1,1048.6L1349.9,1049.4L1344.9,1049.4ZM1365.1,1042.6L1370.1,1042.6L1376.8,1045.1L1376.8,1051.1L1371.8,1051.1L1365.1,1048.6ZM1371.8,1045.1L1395.4,1044.6L1400.4,1044.6L1400.4,1050.6L1376.8,1051.1L1371.8,1051.1ZM1395.4,1044.6L1412.2,1042.6L1417.2,1042.6L1417.2,1048.6L1400.4,1050.6L1395.4,1050.6ZM1412.2,1042.6L1437.5,1041.7L1442.5,1041.7L1442.5,1047.7L1417.2,1048.6L1412.2,1048.6ZM1437.5,1041.7L1445.9,1039.2L1450.9,1039.2L1450.9,1045.2L1442.5,1047.7L1437.5,1047.7ZM1445.9,1039.2L1462.8,1036.7L1467.8,1036.7L1467.8,1042.7L1450.9,1045.2L1445.9,1045.2ZM1462.8,1036.7L1479.6,1034.2L1484.6,1034.2L1484.6,1040.2L1467.8,1042.7L1462.8,1042.7ZM1479.6,1034.2L1499.8,1031.6L1504.8,1031.6L1504.8,1037.6L1484.6,1040.2L1479.6,1040.2ZM1499.8,1031.6L1530.1,1031.1L1535.1,1031.1L1535.1,1037.1L1504.8,1037.6L1499.8,1037.6ZM1530.1,1031.1L1538.6,1029.1L1543.6,1029.1L1543.6,1035.1L1535.1,1037.1L1530.1,1037.1ZM1538.6,1029.1L1553.7,1028.3L1558.7,1028.3L1558.7,1034.3L1543.6,1035.1L1538.6,1035.1ZM1553.7,1028.3L1558.7,1028.3L1568.8,1030.5L1568.8,1036.5L1563.8,1036.5L1553.7,1034.3ZM1563.8,1030.5L1571.8,1029.5L1576.8,1029.5L1576.8,1035.5L1568.8,1036.5L1563.8,1036.5ZM1571.8,1029.5L1576.8,1029.5L1585.3,1030.9L1585.3,1036.9L1580.3,1036.9L1571.8,1035.5ZM1580.3,1030.9L1599.2,1030.9L1599.2,1036.9L1580.3,1036.9ZM1594.2,1030.9L1599.2,1030.9L1604.5,1032.2L1604.5,1038.2L1599.5,1038.2L1594.2,1036.9ZM1599.5,1032.2L1604.5,1032.2L1614.1,1033.8L1614.1,1039.8L1609.1,1039.8L1599.5,1038.2ZM1609.1,1033.8L1614.1,1033.8L1618.4,1035.4L1618.4,1041.4L1613.4,1041.4L1609.1,1039.8ZM1613.4,1035.4L1620.8,1032.2L1625.8,1032.2L1625.8,1038.2L1618.4,1041.4L1613.4,1041.4ZM1620.8,1032.2L1625.8,1032.2L1631.2,1036.5L1631.2,1042.5L1626.2,1042.5L1620.8,1038.2ZM1626.2,1036.5L1641.8,1036.5L1641.8,1042.5L1626.2,1042.5ZM1636.8,1036.5L1645.4,1034.3L1650.4,1034.3L1650.4,1040.3L1641.8,1042.5L1636.8,1042.5ZM1645.4,1034.3L1650.4,1034.3L1661,1036.5L1661,1042.5L1656,1042.5L1645.4,1040.3ZM1656,1036.5L1665.6,1035.4L1670.6,1035.4L1670.6,1041.4L1661,1042.5L1656,1042.5ZM1665.6,1035.4L1670.6,1035.4L1677,1038.6L1677,1044.6L1672,1044.6L1665.6,1041.4ZM1672,1038.6L1695.2,1038.6L1695.2,1044.6L1672,1044.6ZM1690.2,1038.6L1695.2,1038.6L1705.8,1040.7L1705.8,1046.7L1700.8,1046.7L1690.2,1044.6ZM1700.8,1040.7L1705.8,1040.7L1715.4,1041.3L1715.4,1047.3L1710.4,1047.3L1700.8,1046.7ZM1710.4,1041.3L1715.4,1041.3L1719.7,1045L1719.7,1051L1714.7,1051L1710.4,1047.3ZM1714.7,1045L1719.7,1045L1724,1046.1L1724,1052.1L1719,1052.1L1714.7,1051ZM1719,1046.1L1721.1,1040.7L1726.1,1040.7L1726.1,1046.7L1724,1052.1L1719,1052.1ZM1721.1,1040.7L1726.1,1040.7L1730.4,1042.3L1730.4,1048.3L1725.4,1048.3L1721.1,1046.7ZM1725.4,1042.3L1730.4,1042.3L1735.7,1046.6L1735.7,1052.6L1730.7,1052.6L1725.4,1048.3ZM1730.7,1046.6L1745.3,1046.6L1745.3,1052.6L1730.7,1052.6ZM1740.3,1046.6L1745.3,1046.6L1756,1049.3L1756,1055.3L1751,1055.3L1740.3,1052.6ZM1751,1049.3L1756,1049.3L1758.7,1050.3L1758.7,1056.3L1753.7,1056.3L1751,1055.3Z"/>
</g>
<g font-family="'Liberation Sans', Arial, sans-serif" font-size="46" text-anchor="middle" fill="#000">
<text x="216.0" y="1273">100</text>
<text x="397.3" y="1273">150</text>
<text x="578.6" y="1273">200</text>
<text x="760.0" y="1273">250</text>
<text x="941.3" y="1273">300</text>
<text x="1122.6" y="1273">350</text>
<text x="1303.9" y="1273">400</text>
<text x="1485.2" y="1273">450</text>
<text x="1666.6" y="1273">500</text>
</g>
<g font-family="'Liberation Serif', 'Times New Roman', serif" font-size="68" fill="#000">
<text x="715" y="1375" letter-spacing="-0.7">Temperature</text>
<text x="1066" y="1375">(</text>
<text x="1087.4" y="1338.6" font-size="41">o</text>
<text x="1107.1" y="1375">C</text>
<text x="1151.9" y="1375">)</text>
<text transform="translate(69,904) rotate(-90)" x="-0.5" y="0" letter-spacing="-0.25">TCD signal (a.u.)</text>
</g>
<g font-family="'Liberation Sans', Arial, sans-serif" font-size="52" fill="#000">
<line x1="1034" y1="72.0" x2="1146" y2="72.0" stroke="#000000" stroke-width="6" stroke-linecap="round"/>
<text x="1160.5" y="89.9" letter-spacing="0">SCR</text>
<line x1="1034" y1="133.8" x2="1146" y2="133.8" stroke="#ff00ff" stroke-width="6" stroke-linecap="round"/>
<text x="1160.5" y="151.8" letter-spacing="-0.56">SCR+SO<tspan font-size="41">2</tspan></text>
<line x1="1034" y1="195.7" x2="1146" y2="195.7" stroke="#ff8000" stroke-width="6" stroke-linecap="round"/>
<text x="1160.5" y="213.6" letter-spacing="-0.82">3.6%-Na<tspan font-size="41">2</tspan>S<tspan font-size="41">2</tspan>O<tspan font-size="41">7</tspan>-SCR+SO<tspan font-size="41">2</tspan></text>
<line x1="1034" y1="257.6" x2="1146" y2="257.6" stroke="#0000ff" stroke-width="6" stroke-linecap="round"/>
<text x="1160.5" y="275.4" letter-spacing="-0.74">3.6%-Na<tspan font-size="41">2</tspan>S<tspan font-size="41">2</tspan>O<tspan font-size="41">7</tspan>-SCR</text>
<line x1="1034" y1="319.4" x2="1146" y2="319.4" stroke="#ff0000" stroke-width="6" stroke-linecap="round"/>
<text x="1160.5" y="337.3" letter-spacing="-0.69">3.6%-Na<tspan font-size="41">2</tspan>SO<tspan font-size="41">4</tspan>-SCR+SO<tspan font-size="41">2</tspan></text>
<line x1="1034" y1="381.2" x2="1146" y2="381.2" stroke="#008000" stroke-width="6" stroke-linecap="round"/>
<text x="1160.5" y="399.1" letter-spacing="-0.66">3.6%-Na<tspan font-size="41">2</tspan>SO<tspan font-size="41">4</tspan>-SCR</text>
</g>
</svg>
</body></html>
